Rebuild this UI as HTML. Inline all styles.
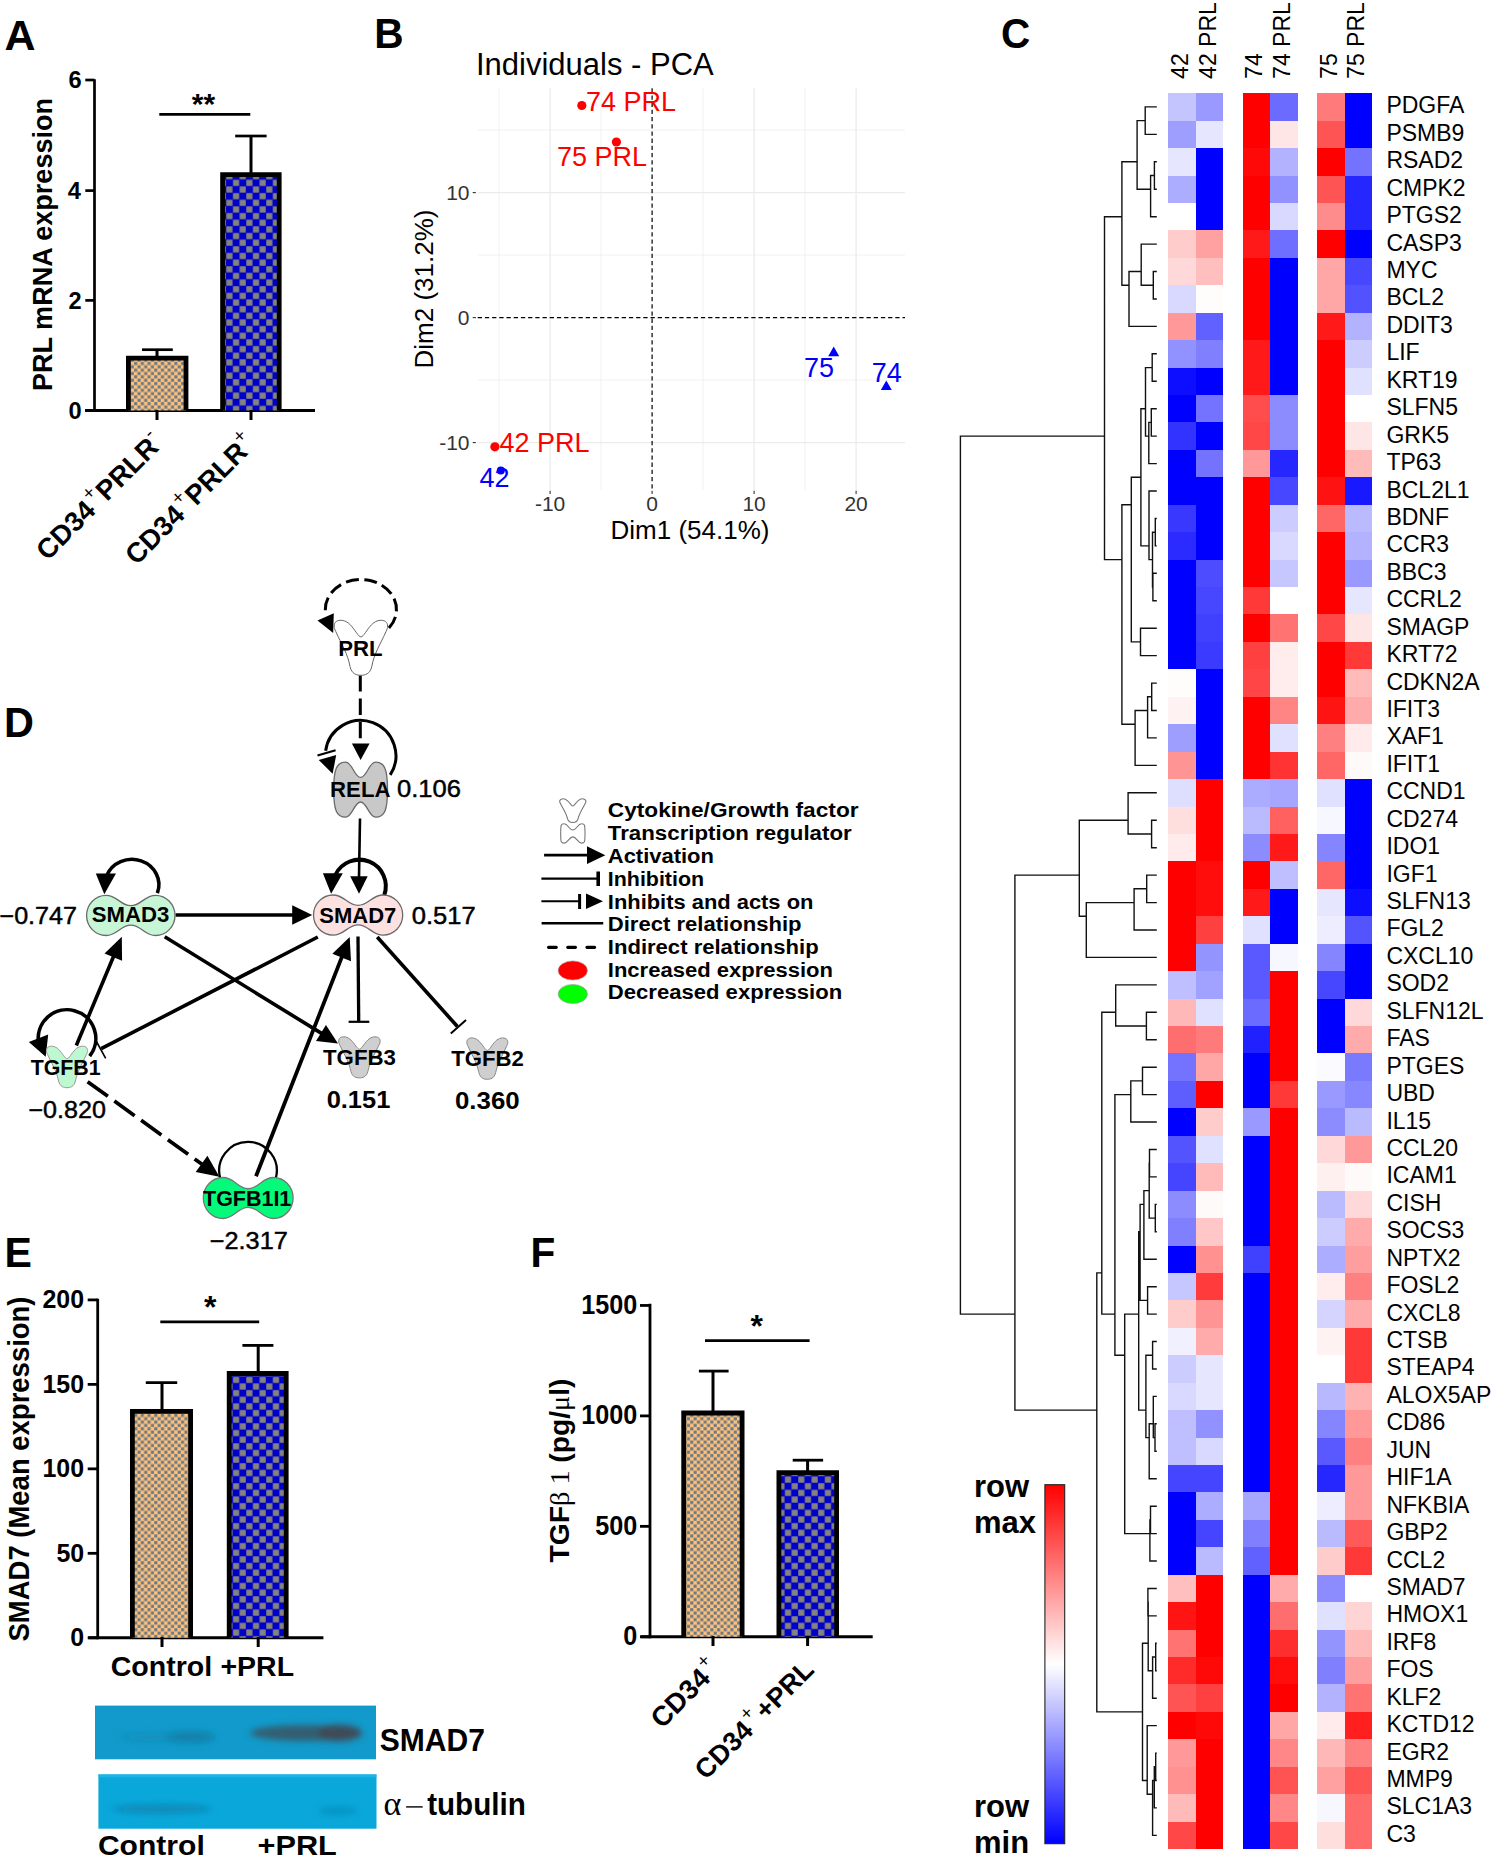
<!DOCTYPE html><html><head><meta charset="utf-8"><style>html,body{margin:0;padding:0;background:#fff;}svg{display:block;}</style></head><body><svg width="1492" height="1857" viewBox="0 0 1492 1857"><rect width="100%" height="100%" fill="#fff"/><defs>
<pattern id="pTan" patternUnits="userSpaceOnUse" width="6.7" height="6.7"><rect width="6.7" height="6.7" fill="#fec07b"/><rect x="0.125" y="0.125" width="3.1" height="3.1" fill="#6b7983"/><rect x="3.475" y="3.475" width="3.1" height="3.1" fill="#6b7983"/></pattern>
<pattern id="pBlue" patternUnits="userSpaceOnUse" width="13.3" height="13.3"><rect width="13.3" height="13.3" fill="#0000c8"/><rect x="0.25" y="0.25" width="6.15" height="6.15" fill="#84847c"/><rect x="6.9" y="6.9" width="6.15" height="6.15" fill="#84847c"/></pattern>
<linearGradient id="gKey" x1="0" y1="0" x2="0" y2="1"><stop offset="0" stop-color="#ff0000"/><stop offset="0.5" stop-color="#ffffff"/><stop offset="1" stop-color="#0000ff"/></linearGradient>
<linearGradient id="gBlot1" x1="0" y1="0" x2="0" y2="1"><stop offset="0" stop-color="#1598c8"/><stop offset="1" stop-color="#1a9dcc"/></linearGradient>
<filter id="blur2" x="-20%" y="-50%" width="140%" height="200%"><feGaussianBlur stdDeviation="3"/></filter>
<filter id="blur1" x="-20%" y="-50%" width="140%" height="200%"><feGaussianBlur stdDeviation="1.2"/></filter>
<marker id="ah" viewBox="0 0 10 10" refX="9" refY="5" markerWidth="5" markerHeight="5" orient="auto-start-reverse" markerUnits="strokeWidth"><path d="M0,0 L10,5 L0,10 z" fill="#000"/></marker>
</defs>
<text x="4.43" y="50" font-size="43.3" font-weight="bold" text-anchor="start" fill="#000" font-family='"Liberation Sans", sans-serif' textLength="31.04" lengthAdjust="spacingAndGlyphs" >A</text>
<text x="374.26" y="47.6" font-size="43.3" font-weight="bold" text-anchor="start" fill="#000" font-family='"Liberation Sans", sans-serif' textLength="29.36" lengthAdjust="spacingAndGlyphs" >B</text>
<text x="1001.08" y="47.5" font-size="43.3" font-weight="bold" text-anchor="start" fill="#000" font-family='"Liberation Sans", sans-serif' textLength="29.22" lengthAdjust="spacingAndGlyphs" >C</text>
<text x="4.1" y="737" font-size="43.3" font-weight="bold" text-anchor="start" fill="#000" font-family='"Liberation Sans", sans-serif' textLength="29.95" lengthAdjust="spacingAndGlyphs" >D</text>
<text x="4.43" y="1267" font-size="43.3" font-weight="bold" text-anchor="start" fill="#000" font-family='"Liberation Sans", sans-serif' textLength="27.39" lengthAdjust="spacingAndGlyphs" >E</text>
<text x="530.46" y="1267" font-size="43.3" font-weight="bold" text-anchor="start" fill="#000" font-family='"Liberation Sans", sans-serif' textLength="24.8" lengthAdjust="spacingAndGlyphs" >F</text>
<line x1="94.5" y1="79.2" x2="94.5" y2="411.8" stroke="#000" stroke-width="2.7" />
<line x1="85.3" y1="80" x2="94.5" y2="80" stroke="#000" stroke-width="2.7" />
<line x1="85.3" y1="190.6" x2="94.5" y2="190.6" stroke="#000" stroke-width="2.7" />
<line x1="85.3" y1="300.4" x2="94.5" y2="300.4" stroke="#000" stroke-width="2.7" />
<line x1="85.3" y1="410.5" x2="94.5" y2="410.5" stroke="#000" stroke-width="2.7" />
<text x="68.49" y="88.4" font-size="24.4" font-weight="bold" text-anchor="start" fill="#000" font-family='"Liberation Sans", sans-serif' textLength="13.16" lengthAdjust="spacingAndGlyphs" >6</text>
<text x="67.78" y="199.0" font-size="24.4" font-weight="bold" text-anchor="start" fill="#000" font-family='"Liberation Sans", sans-serif' textLength="13.16" lengthAdjust="spacingAndGlyphs" >4</text>
<text x="68.61" y="308.79999999999995" font-size="24.4" font-weight="bold" text-anchor="start" fill="#000" font-family='"Liberation Sans", sans-serif' textLength="13.16" lengthAdjust="spacingAndGlyphs" >2</text>
<text x="68.61" y="418.9" font-size="24.4" font-weight="bold" text-anchor="start" fill="#000" font-family='"Liberation Sans", sans-serif' textLength="13.16" lengthAdjust="spacingAndGlyphs" >0</text>
<line x1="85" y1="410.5" x2="315" y2="410.5" stroke="#000" stroke-width="3.1" />
<rect x="128.40" y="358.20" width="57.60" height="52.30" fill="url(#pTan)"/><path d="M128.40,410.50 V358.20 H186.00 V410.50" fill="none" stroke="#000" stroke-width="4.8"/>
<rect x="222.60" y="174.70" width="56.60" height="235.80" fill="url(#pBlue)"/><path d="M222.60,410.50 V174.70 H279.20 V410.50" fill="none" stroke="#000" stroke-width="4.8"/>
<line x1="157" y1="420" x2="157" y2="410" stroke="#000" stroke-width="3.0" />
<line x1="251" y1="420" x2="251" y2="410" stroke="#000" stroke-width="3.0" />
<line x1="157" y1="356" x2="157" y2="349.7" stroke="#000" stroke-width="3.0" />
<line x1="142" y1="349.7" x2="172.8" y2="349.7" stroke="#000" stroke-width="2.7" />
<line x1="251" y1="173" x2="251" y2="136" stroke="#000" stroke-width="3.0" />
<line x1="235.2" y1="136" x2="266.6" y2="136" stroke="#000" stroke-width="2.7" />
<line x1="159.3" y1="114.4" x2="250.3" y2="114.4" stroke="#000" stroke-width="2.7" />
<text x="203.5" y="113.5" font-size="30" font-weight="bold" text-anchor="middle" fill="#000" font-family='"Liberation Sans", sans-serif' >**</text>
<text x="0" y="0" font-size="28.5" font-weight="bold" text-anchor="middle" fill="#000" font-family='"Liberation Sans", sans-serif' textLength="293" lengthAdjust="spacingAndGlyphs" transform="translate(52,244.5) rotate(-90)">PRL mRNA expression</text>
<text x="0" y="0" font-size="27.5" font-weight="bold" text-anchor="end" fill="#000" font-family='"Liberation Sans", sans-serif' transform="translate(164.5,444.5) rotate(-45)">CD34<tspan font-size="19" font-weight="normal" dx="2" dy="-13">+</tspan><tspan dx="1" dy="13">PRLR</tspan><tspan font-size="19" font-weight="normal" dy="-13">-</tspan></text>
<text x="0" y="0" font-size="27.5" font-weight="bold" text-anchor="end" fill="#000" font-family='"Liberation Sans", sans-serif' transform="translate(257,445.6) rotate(-45)">CD34<tspan font-size="19" font-weight="normal" dx="2" dy="-13">+</tspan><tspan dx="1" dy="13">PRLR</tspan><tspan font-size="19" font-weight="normal" dy="-13">+</tspan></text>
<line x1="499.1" y1="88.2" x2="499.1" y2="490.2" stroke="#ebebeb" stroke-width="0.7" />
<line x1="601.1" y1="88.2" x2="601.1" y2="490.2" stroke="#ebebeb" stroke-width="0.7" />
<line x1="703.1" y1="88.2" x2="703.1" y2="490.2" stroke="#ebebeb" stroke-width="0.7" />
<line x1="805.1" y1="88.2" x2="805.1" y2="490.2" stroke="#ebebeb" stroke-width="0.7" />
<line x1="550.1" y1="88.2" x2="550.1" y2="490.2" stroke="#ebebeb" stroke-width="1.3" />
<line x1="754.1" y1="88.2" x2="754.1" y2="490.2" stroke="#ebebeb" stroke-width="1.3" />
<line x1="856.1" y1="88.2" x2="856.1" y2="490.2" stroke="#ebebeb" stroke-width="1.3" />
<line x1="477.7" y1="380.1" x2="905" y2="380.1" stroke="#ebebeb" stroke-width="0.7" />
<line x1="477.7" y1="255.10000000000002" x2="905" y2="255.10000000000002" stroke="#ebebeb" stroke-width="0.7" />
<line x1="477.7" y1="130.10000000000002" x2="905" y2="130.10000000000002" stroke="#ebebeb" stroke-width="0.7" />
<line x1="477.7" y1="442.6" x2="905" y2="442.6" stroke="#ebebeb" stroke-width="1.3" />
<line x1="477.7" y1="192.60000000000002" x2="905" y2="192.60000000000002" stroke="#ebebeb" stroke-width="1.3" />
<line x1="652.1" y1="88.2" x2="652.1" y2="490.2" stroke="#000" stroke-width="1.2" stroke-dasharray="4.3 2.9"/>
<line x1="477.7" y1="317.6" x2="905" y2="317.6" stroke="#000" stroke-width="1.2" stroke-dasharray="4.3 2.9"/>
<line x1="472.7" y1="192.60000000000002" x2="475.9" y2="192.60000000000002" stroke="#333" stroke-width="1.1" />
<text x="469.5" y="200.40000000000003" font-size="21" font-weight="normal" text-anchor="end" fill="#333" font-family='"Liberation Sans", sans-serif' >10</text>
<line x1="472.7" y1="317.6" x2="475.9" y2="317.6" stroke="#333" stroke-width="1.1" />
<text x="469.5" y="325.40000000000003" font-size="21" font-weight="normal" text-anchor="end" fill="#333" font-family='"Liberation Sans", sans-serif' >0</text>
<line x1="472.7" y1="442.6" x2="475.9" y2="442.6" stroke="#333" stroke-width="1.1" />
<text x="469.5" y="450.40000000000003" font-size="21" font-weight="normal" text-anchor="end" fill="#333" font-family='"Liberation Sans", sans-serif' >-10</text>
<line x1="550.1" y1="490.8" x2="550.1" y2="494" stroke="#333" stroke-width="1.1" />
<text x="550.1" y="511.2" font-size="21" font-weight="normal" text-anchor="middle" fill="#333" font-family='"Liberation Sans", sans-serif' >-10</text>
<line x1="652.1" y1="490.8" x2="652.1" y2="494" stroke="#333" stroke-width="1.1" />
<text x="652.1" y="511.2" font-size="21" font-weight="normal" text-anchor="middle" fill="#333" font-family='"Liberation Sans", sans-serif' >0</text>
<line x1="754.1" y1="490.8" x2="754.1" y2="494" stroke="#333" stroke-width="1.1" />
<text x="754.1" y="511.2" font-size="21" font-weight="normal" text-anchor="middle" fill="#333" font-family='"Liberation Sans", sans-serif' >10</text>
<line x1="856.1" y1="490.8" x2="856.1" y2="494" stroke="#333" stroke-width="1.1" />
<text x="856.1" y="511.2" font-size="21" font-weight="normal" text-anchor="middle" fill="#333" font-family='"Liberation Sans", sans-serif' >20</text>
<text x="476" y="75" font-size="31" font-weight="normal" text-anchor="start" fill="#000" font-family='"Liberation Sans", sans-serif' >Individuals - PCA</text>
<text x="690" y="539" font-size="26" font-weight="normal" text-anchor="middle" fill="#000" font-family='"Liberation Sans", sans-serif' >Dim1 (54.1%)</text>
<text x="0" y="0" font-size="26" font-weight="normal" text-anchor="middle" fill="#000" font-family='"Liberation Sans", sans-serif' transform="translate(432.5,289) rotate(-90)">Dim2 (31.2%)</text>
<circle cx="581.8" cy="105.5" r="4.6" fill="#ff0000"/>
<circle cx="616.4" cy="142" r="4.6" fill="#ff0000"/>
<circle cx="494.9" cy="446.8" r="4.6" fill="#ff0000"/>
<circle cx="500.8" cy="470.4" r="4" fill="#0000ff"/>
<path d="M833.7,346.6 L839.2,356.225 L828.2,356.225 z" fill="#0000ff"/>
<path d="M886.3,380.4 L891.8,390.025 L880.8,390.025 z" fill="#0000ff"/>
<text x="586" y="111.1" font-size="27" font-weight="normal" text-anchor="start" fill="#ff0000" font-family='"Liberation Sans", sans-serif' >74 PRL</text>
<text x="557" y="165.8" font-size="27" font-weight="normal" text-anchor="start" fill="#ff0000" font-family='"Liberation Sans", sans-serif' >75 PRL</text>
<text x="499.5" y="451.6" font-size="27" font-weight="normal" text-anchor="start" fill="#ff0000" font-family='"Liberation Sans", sans-serif' >42 PRL</text>
<text x="479.5" y="487" font-size="27" font-weight="normal" text-anchor="start" fill="#0000ff" font-family='"Liberation Sans", sans-serif' >42</text>
<text x="804" y="376.8" font-size="27" font-weight="normal" text-anchor="start" fill="#0000ff" font-family='"Liberation Sans", sans-serif' >75</text>
<text x="871.7" y="382.2" font-size="27" font-weight="normal" text-anchor="start" fill="#0000ff" font-family='"Liberation Sans", sans-serif' >74</text>
<g shape-rendering="crispEdges">
<rect x="1168.30" y="93.20" width="27.90" height="27.74" fill="#c4c4ff"/>
<rect x="1195.90" y="93.20" width="27.40" height="27.74" fill="#9999ff"/>
<rect x="1242.60" y="93.20" width="27.40" height="27.74" fill="#ff0000"/>
<rect x="1269.70" y="93.20" width="27.90" height="27.74" fill="#6b6bff"/>
<rect x="1316.90" y="93.20" width="27.90" height="27.74" fill="#ff7a7a"/>
<rect x="1344.50" y="93.20" width="27.70" height="27.74" fill="#0000ff"/>
<rect x="1168.30" y="120.64" width="27.90" height="27.74" fill="#9e9eff"/>
<rect x="1195.90" y="120.64" width="27.40" height="27.74" fill="#e6e6ff"/>
<rect x="1242.60" y="120.64" width="27.40" height="27.74" fill="#ff0000"/>
<rect x="1269.70" y="120.64" width="27.90" height="27.74" fill="#ffe6e6"/>
<rect x="1316.90" y="120.64" width="27.90" height="27.74" fill="#ff5454"/>
<rect x="1344.50" y="120.64" width="27.70" height="27.74" fill="#0000ff"/>
<rect x="1168.30" y="148.07" width="27.90" height="27.74" fill="#e6e6ff"/>
<rect x="1195.90" y="148.07" width="27.40" height="27.74" fill="#0000ff"/>
<rect x="1242.60" y="148.07" width="27.40" height="27.74" fill="#ff0808"/>
<rect x="1269.70" y="148.07" width="27.90" height="27.74" fill="#b2b2ff"/>
<rect x="1316.90" y="148.07" width="27.90" height="27.74" fill="#ff0000"/>
<rect x="1344.50" y="148.07" width="27.70" height="27.74" fill="#7373ff"/>
<rect x="1168.30" y="175.51" width="27.90" height="27.74" fill="#adadff"/>
<rect x="1195.90" y="175.51" width="27.40" height="27.74" fill="#0000ff"/>
<rect x="1242.60" y="175.51" width="27.40" height="27.74" fill="#ff0000"/>
<rect x="1269.70" y="175.51" width="27.90" height="27.74" fill="#9191ff"/>
<rect x="1316.90" y="175.51" width="27.90" height="27.74" fill="#ff5454"/>
<rect x="1344.50" y="175.51" width="27.70" height="27.74" fill="#2626ff"/>
<rect x="1168.30" y="202.94" width="27.90" height="27.74" fill="#ffffff"/>
<rect x="1195.90" y="202.94" width="27.40" height="27.74" fill="#0000ff"/>
<rect x="1242.60" y="202.94" width="27.40" height="27.74" fill="#ff0000"/>
<rect x="1269.70" y="202.94" width="27.90" height="27.74" fill="#d9d9ff"/>
<rect x="1316.90" y="202.94" width="27.90" height="27.74" fill="#ff8c8c"/>
<rect x="1344.50" y="202.94" width="27.70" height="27.74" fill="#2626ff"/>
<rect x="1168.30" y="230.38" width="27.90" height="27.74" fill="#ffcccc"/>
<rect x="1195.90" y="230.38" width="27.40" height="27.74" fill="#ffa1a1"/>
<rect x="1242.60" y="230.38" width="27.40" height="27.74" fill="#ff1919"/>
<rect x="1269.70" y="230.38" width="27.90" height="27.74" fill="#6e6eff"/>
<rect x="1316.90" y="230.38" width="27.90" height="27.74" fill="#ff0000"/>
<rect x="1344.50" y="230.38" width="27.70" height="27.74" fill="#0000ff"/>
<rect x="1168.30" y="257.82" width="27.90" height="27.74" fill="#ffd9d9"/>
<rect x="1195.90" y="257.82" width="27.40" height="27.74" fill="#ffbfbf"/>
<rect x="1242.60" y="257.82" width="27.40" height="27.74" fill="#ff0000"/>
<rect x="1269.70" y="257.82" width="27.90" height="27.74" fill="#0000ff"/>
<rect x="1316.90" y="257.82" width="27.90" height="27.74" fill="#ffa6a6"/>
<rect x="1344.50" y="257.82" width="27.70" height="27.74" fill="#4747ff"/>
<rect x="1168.30" y="285.25" width="27.90" height="27.74" fill="#d9d9ff"/>
<rect x="1195.90" y="285.25" width="27.40" height="27.74" fill="#fffcfc"/>
<rect x="1242.60" y="285.25" width="27.40" height="27.74" fill="#ff0000"/>
<rect x="1269.70" y="285.25" width="27.90" height="27.74" fill="#0000ff"/>
<rect x="1316.90" y="285.25" width="27.90" height="27.74" fill="#ffa6a6"/>
<rect x="1344.50" y="285.25" width="27.70" height="27.74" fill="#5252ff"/>
<rect x="1168.30" y="312.69" width="27.90" height="27.74" fill="#ff9999"/>
<rect x="1195.90" y="312.69" width="27.40" height="27.74" fill="#6161ff"/>
<rect x="1242.60" y="312.69" width="27.40" height="27.74" fill="#ff0000"/>
<rect x="1269.70" y="312.69" width="27.90" height="27.74" fill="#0000ff"/>
<rect x="1316.90" y="312.69" width="27.90" height="27.74" fill="#ff1919"/>
<rect x="1344.50" y="312.69" width="27.70" height="27.74" fill="#b2b2ff"/>
<rect x="1168.30" y="340.12" width="27.90" height="27.74" fill="#9191ff"/>
<rect x="1195.90" y="340.12" width="27.40" height="27.74" fill="#8080ff"/>
<rect x="1242.60" y="340.12" width="27.40" height="27.74" fill="#ff1919"/>
<rect x="1269.70" y="340.12" width="27.90" height="27.74" fill="#0000ff"/>
<rect x="1316.90" y="340.12" width="27.90" height="27.74" fill="#ff0000"/>
<rect x="1344.50" y="340.12" width="27.70" height="27.74" fill="#ccccff"/>
<rect x="1168.30" y="367.56" width="27.90" height="27.74" fill="#0d0dff"/>
<rect x="1195.90" y="367.56" width="27.40" height="27.74" fill="#0000ff"/>
<rect x="1242.60" y="367.56" width="27.40" height="27.74" fill="#ff1919"/>
<rect x="1269.70" y="367.56" width="27.90" height="27.74" fill="#0000ff"/>
<rect x="1316.90" y="367.56" width="27.90" height="27.74" fill="#ff0000"/>
<rect x="1344.50" y="367.56" width="27.70" height="27.74" fill="#e0e0ff"/>
<rect x="1168.30" y="395.00" width="27.90" height="27.74" fill="#0000ff"/>
<rect x="1195.90" y="395.00" width="27.40" height="27.74" fill="#7373ff"/>
<rect x="1242.60" y="395.00" width="27.40" height="27.74" fill="#ff4d4d"/>
<rect x="1269.70" y="395.00" width="27.90" height="27.74" fill="#8c8cff"/>
<rect x="1316.90" y="395.00" width="27.90" height="27.74" fill="#ff0000"/>
<rect x="1344.50" y="395.00" width="27.70" height="27.74" fill="#ffffff"/>
<rect x="1168.30" y="422.43" width="27.90" height="27.74" fill="#3333ff"/>
<rect x="1195.90" y="422.43" width="27.40" height="27.74" fill="#0000ff"/>
<rect x="1242.60" y="422.43" width="27.40" height="27.74" fill="#ff4747"/>
<rect x="1269.70" y="422.43" width="27.90" height="27.74" fill="#8c8cff"/>
<rect x="1316.90" y="422.43" width="27.90" height="27.74" fill="#ff0000"/>
<rect x="1344.50" y="422.43" width="27.70" height="27.74" fill="#ffe6e6"/>
<rect x="1168.30" y="449.87" width="27.90" height="27.74" fill="#0000ff"/>
<rect x="1195.90" y="449.87" width="27.40" height="27.74" fill="#7373ff"/>
<rect x="1242.60" y="449.87" width="27.40" height="27.74" fill="#ff9999"/>
<rect x="1269.70" y="449.87" width="27.90" height="27.74" fill="#2626ff"/>
<rect x="1316.90" y="449.87" width="27.90" height="27.74" fill="#ff0000"/>
<rect x="1344.50" y="449.87" width="27.70" height="27.74" fill="#ffbaba"/>
<rect x="1168.30" y="477.30" width="27.90" height="27.74" fill="#0000ff"/>
<rect x="1195.90" y="477.30" width="27.40" height="27.74" fill="#0000ff"/>
<rect x="1242.60" y="477.30" width="27.40" height="27.74" fill="#ff0000"/>
<rect x="1269.70" y="477.30" width="27.90" height="27.74" fill="#4747ff"/>
<rect x="1316.90" y="477.30" width="27.90" height="27.74" fill="#ff1212"/>
<rect x="1344.50" y="477.30" width="27.70" height="27.74" fill="#1919ff"/>
<rect x="1168.30" y="504.74" width="27.90" height="27.74" fill="#3838ff"/>
<rect x="1195.90" y="504.74" width="27.40" height="27.74" fill="#0000ff"/>
<rect x="1242.60" y="504.74" width="27.40" height="27.74" fill="#ff0000"/>
<rect x="1269.70" y="504.74" width="27.90" height="27.74" fill="#ccccff"/>
<rect x="1316.90" y="504.74" width="27.90" height="27.74" fill="#ff6666"/>
<rect x="1344.50" y="504.74" width="27.70" height="27.74" fill="#babaff"/>
<rect x="1168.30" y="532.17" width="27.90" height="27.74" fill="#2b2bff"/>
<rect x="1195.90" y="532.17" width="27.40" height="27.74" fill="#0000ff"/>
<rect x="1242.60" y="532.17" width="27.40" height="27.74" fill="#ff0000"/>
<rect x="1269.70" y="532.17" width="27.90" height="27.74" fill="#d9d9ff"/>
<rect x="1316.90" y="532.17" width="27.90" height="27.74" fill="#ff0000"/>
<rect x="1344.50" y="532.17" width="27.70" height="27.74" fill="#b2b2ff"/>
<rect x="1168.30" y="559.61" width="27.90" height="27.74" fill="#0000ff"/>
<rect x="1195.90" y="559.61" width="27.40" height="27.74" fill="#4d4dff"/>
<rect x="1242.60" y="559.61" width="27.40" height="27.74" fill="#ff0000"/>
<rect x="1269.70" y="559.61" width="27.90" height="27.74" fill="#c7c7ff"/>
<rect x="1316.90" y="559.61" width="27.90" height="27.74" fill="#ff0000"/>
<rect x="1344.50" y="559.61" width="27.70" height="27.74" fill="#9999ff"/>
<rect x="1168.30" y="587.05" width="27.90" height="27.74" fill="#0000ff"/>
<rect x="1195.90" y="587.05" width="27.40" height="27.74" fill="#4747ff"/>
<rect x="1242.60" y="587.05" width="27.40" height="27.74" fill="#ff3838"/>
<rect x="1269.70" y="587.05" width="27.90" height="27.74" fill="#ffffff"/>
<rect x="1316.90" y="587.05" width="27.90" height="27.74" fill="#ff0000"/>
<rect x="1344.50" y="587.05" width="27.70" height="27.74" fill="#e6e6ff"/>
<rect x="1168.30" y="614.48" width="27.90" height="27.74" fill="#0000ff"/>
<rect x="1195.90" y="614.48" width="27.40" height="27.74" fill="#4040ff"/>
<rect x="1242.60" y="614.48" width="27.40" height="27.74" fill="#ff0000"/>
<rect x="1269.70" y="614.48" width="27.90" height="27.74" fill="#ff7373"/>
<rect x="1316.90" y="614.48" width="27.90" height="27.74" fill="#ff4747"/>
<rect x="1344.50" y="614.48" width="27.70" height="27.74" fill="#ffe6e6"/>
<rect x="1168.30" y="641.92" width="27.90" height="27.74" fill="#0000ff"/>
<rect x="1195.90" y="641.92" width="27.40" height="27.74" fill="#3b3bff"/>
<rect x="1242.60" y="641.92" width="27.40" height="27.74" fill="#ff4040"/>
<rect x="1269.70" y="641.92" width="27.90" height="27.74" fill="#ffeded"/>
<rect x="1316.90" y="641.92" width="27.90" height="27.74" fill="#ff0000"/>
<rect x="1344.50" y="641.92" width="27.70" height="27.74" fill="#ff3838"/>
<rect x="1168.30" y="669.35" width="27.90" height="27.74" fill="#fffcfc"/>
<rect x="1195.90" y="669.35" width="27.40" height="27.74" fill="#0000ff"/>
<rect x="1242.60" y="669.35" width="27.40" height="27.74" fill="#ff4545"/>
<rect x="1269.70" y="669.35" width="27.90" height="27.74" fill="#ffeded"/>
<rect x="1316.90" y="669.35" width="27.90" height="27.74" fill="#ff0000"/>
<rect x="1344.50" y="669.35" width="27.70" height="27.74" fill="#ffbaba"/>
<rect x="1168.30" y="696.79" width="27.90" height="27.74" fill="#fff2f2"/>
<rect x="1195.90" y="696.79" width="27.40" height="27.74" fill="#0000ff"/>
<rect x="1242.60" y="696.79" width="27.40" height="27.74" fill="#ff0000"/>
<rect x="1269.70" y="696.79" width="27.90" height="27.74" fill="#ff8585"/>
<rect x="1316.90" y="696.79" width="27.90" height="27.74" fill="#ff1414"/>
<rect x="1344.50" y="696.79" width="27.70" height="27.74" fill="#ffabab"/>
<rect x="1168.30" y="724.23" width="27.90" height="27.74" fill="#9e9eff"/>
<rect x="1195.90" y="724.23" width="27.40" height="27.74" fill="#0000ff"/>
<rect x="1242.60" y="724.23" width="27.40" height="27.74" fill="#ff0000"/>
<rect x="1269.70" y="724.23" width="27.90" height="27.74" fill="#e0e0ff"/>
<rect x="1316.90" y="724.23" width="27.90" height="27.74" fill="#ff8080"/>
<rect x="1344.50" y="724.23" width="27.70" height="27.74" fill="#ffebeb"/>
<rect x="1168.30" y="751.66" width="27.90" height="27.74" fill="#ff9494"/>
<rect x="1195.90" y="751.66" width="27.40" height="27.74" fill="#0000ff"/>
<rect x="1242.60" y="751.66" width="27.40" height="27.74" fill="#ff0000"/>
<rect x="1269.70" y="751.66" width="27.90" height="27.74" fill="#ff3333"/>
<rect x="1316.90" y="751.66" width="27.90" height="27.74" fill="#ff6666"/>
<rect x="1344.50" y="751.66" width="27.70" height="27.74" fill="#fffafa"/>
<rect x="1168.30" y="779.10" width="27.90" height="27.74" fill="#dedeff"/>
<rect x="1195.90" y="779.10" width="27.40" height="27.74" fill="#ff0000"/>
<rect x="1242.60" y="779.10" width="27.40" height="27.74" fill="#ababff"/>
<rect x="1269.70" y="779.10" width="27.90" height="27.74" fill="#a6a6ff"/>
<rect x="1316.90" y="779.10" width="27.90" height="27.74" fill="#e0e0ff"/>
<rect x="1344.50" y="779.10" width="27.70" height="27.74" fill="#0000ff"/>
<rect x="1168.30" y="806.53" width="27.90" height="27.74" fill="#ffdede"/>
<rect x="1195.90" y="806.53" width="27.40" height="27.74" fill="#ff0000"/>
<rect x="1242.60" y="806.53" width="27.40" height="27.74" fill="#babaff"/>
<rect x="1269.70" y="806.53" width="27.90" height="27.74" fill="#ff6161"/>
<rect x="1316.90" y="806.53" width="27.90" height="27.74" fill="#f7f7ff"/>
<rect x="1344.50" y="806.53" width="27.70" height="27.74" fill="#0000ff"/>
<rect x="1168.30" y="833.97" width="27.90" height="27.74" fill="#ffebeb"/>
<rect x="1195.90" y="833.97" width="27.40" height="27.74" fill="#ff0000"/>
<rect x="1242.60" y="833.97" width="27.40" height="27.74" fill="#8c8cff"/>
<rect x="1269.70" y="833.97" width="27.90" height="27.74" fill="#ff1919"/>
<rect x="1316.90" y="833.97" width="27.90" height="27.74" fill="#8585ff"/>
<rect x="1344.50" y="833.97" width="27.70" height="27.74" fill="#0000ff"/>
<rect x="1168.30" y="861.41" width="27.90" height="27.74" fill="#ff0000"/>
<rect x="1195.90" y="861.41" width="27.40" height="27.74" fill="#ff0d0d"/>
<rect x="1242.60" y="861.41" width="27.40" height="27.74" fill="#ff0000"/>
<rect x="1269.70" y="861.41" width="27.90" height="27.74" fill="#bfbfff"/>
<rect x="1316.90" y="861.41" width="27.90" height="27.74" fill="#ff6666"/>
<rect x="1344.50" y="861.41" width="27.70" height="27.74" fill="#0000ff"/>
<rect x="1168.30" y="888.84" width="27.90" height="27.74" fill="#ff0000"/>
<rect x="1195.90" y="888.84" width="27.40" height="27.74" fill="#ff0d0d"/>
<rect x="1242.60" y="888.84" width="27.40" height="27.74" fill="#ff1919"/>
<rect x="1269.70" y="888.84" width="27.90" height="27.74" fill="#0000ff"/>
<rect x="1316.90" y="888.84" width="27.90" height="27.74" fill="#e6e6ff"/>
<rect x="1344.50" y="888.84" width="27.70" height="27.74" fill="#0d0dff"/>
<rect x="1168.30" y="916.28" width="27.90" height="27.74" fill="#ff0000"/>
<rect x="1195.90" y="916.28" width="27.40" height="27.74" fill="#ff4040"/>
<rect x="1242.60" y="916.28" width="27.40" height="27.74" fill="#e0e0ff"/>
<rect x="1269.70" y="916.28" width="27.90" height="27.74" fill="#0000ff"/>
<rect x="1316.90" y="916.28" width="27.90" height="27.74" fill="#ededff"/>
<rect x="1344.50" y="916.28" width="27.70" height="27.74" fill="#5454ff"/>
<rect x="1168.30" y="943.71" width="27.90" height="27.74" fill="#ff0000"/>
<rect x="1195.90" y="943.71" width="27.40" height="27.74" fill="#9494ff"/>
<rect x="1242.60" y="943.71" width="27.40" height="27.74" fill="#5959ff"/>
<rect x="1269.70" y="943.71" width="27.90" height="27.74" fill="#f7f7ff"/>
<rect x="1316.90" y="943.71" width="27.90" height="27.74" fill="#8585ff"/>
<rect x="1344.50" y="943.71" width="27.70" height="27.74" fill="#0000ff"/>
<rect x="1168.30" y="971.15" width="27.90" height="27.74" fill="#bfbfff"/>
<rect x="1195.90" y="971.15" width="27.40" height="27.74" fill="#a1a1ff"/>
<rect x="1242.60" y="971.15" width="27.40" height="27.74" fill="#5959ff"/>
<rect x="1269.70" y="971.15" width="27.90" height="27.74" fill="#ff0000"/>
<rect x="1316.90" y="971.15" width="27.90" height="27.74" fill="#4747ff"/>
<rect x="1344.50" y="971.15" width="27.70" height="27.74" fill="#0000ff"/>
<rect x="1168.30" y="998.59" width="27.90" height="27.74" fill="#ffb8b8"/>
<rect x="1195.90" y="998.59" width="27.40" height="27.74" fill="#e0e0ff"/>
<rect x="1242.60" y="998.59" width="27.40" height="27.74" fill="#6b6bff"/>
<rect x="1269.70" y="998.59" width="27.90" height="27.74" fill="#ff0000"/>
<rect x="1316.90" y="998.59" width="27.90" height="27.74" fill="#0000ff"/>
<rect x="1344.50" y="998.59" width="27.70" height="27.74" fill="#ffd9d9"/>
<rect x="1168.30" y="1026.02" width="27.90" height="27.74" fill="#ff6e6e"/>
<rect x="1195.90" y="1026.02" width="27.40" height="27.74" fill="#ff7a7a"/>
<rect x="1242.60" y="1026.02" width="27.40" height="27.74" fill="#2121ff"/>
<rect x="1269.70" y="1026.02" width="27.90" height="27.74" fill="#ff0000"/>
<rect x="1316.90" y="1026.02" width="27.90" height="27.74" fill="#0000ff"/>
<rect x="1344.50" y="1026.02" width="27.70" height="27.74" fill="#ffabab"/>
<rect x="1168.30" y="1053.46" width="27.90" height="27.74" fill="#7373ff"/>
<rect x="1195.90" y="1053.46" width="27.40" height="27.74" fill="#ffa6a6"/>
<rect x="1242.60" y="1053.46" width="27.40" height="27.74" fill="#0000ff"/>
<rect x="1269.70" y="1053.46" width="27.90" height="27.74" fill="#ff0000"/>
<rect x="1316.90" y="1053.46" width="27.90" height="27.74" fill="#fafaff"/>
<rect x="1344.50" y="1053.46" width="27.70" height="27.74" fill="#7a7aff"/>
<rect x="1168.30" y="1080.89" width="27.90" height="27.74" fill="#5e5eff"/>
<rect x="1195.90" y="1080.89" width="27.40" height="27.74" fill="#ff0000"/>
<rect x="1242.60" y="1080.89" width="27.40" height="27.74" fill="#0000ff"/>
<rect x="1269.70" y="1080.89" width="27.90" height="27.74" fill="#ff3838"/>
<rect x="1316.90" y="1080.89" width="27.90" height="27.74" fill="#9999ff"/>
<rect x="1344.50" y="1080.89" width="27.70" height="27.74" fill="#8787ff"/>
<rect x="1168.30" y="1108.33" width="27.90" height="27.74" fill="#0000ff"/>
<rect x="1195.90" y="1108.33" width="27.40" height="27.74" fill="#ffcccc"/>
<rect x="1242.60" y="1108.33" width="27.40" height="27.74" fill="#9999ff"/>
<rect x="1269.70" y="1108.33" width="27.90" height="27.74" fill="#ff0000"/>
<rect x="1316.90" y="1108.33" width="27.90" height="27.74" fill="#8c8cff"/>
<rect x="1344.50" y="1108.33" width="27.70" height="27.74" fill="#babaff"/>
<rect x="1168.30" y="1135.77" width="27.90" height="27.74" fill="#5454ff"/>
<rect x="1195.90" y="1135.77" width="27.40" height="27.74" fill="#e0e0ff"/>
<rect x="1242.60" y="1135.77" width="27.40" height="27.74" fill="#0000ff"/>
<rect x="1269.70" y="1135.77" width="27.90" height="27.74" fill="#ff0000"/>
<rect x="1316.90" y="1135.77" width="27.90" height="27.74" fill="#ffd9d9"/>
<rect x="1344.50" y="1135.77" width="27.70" height="27.74" fill="#ff9999"/>
<rect x="1168.30" y="1163.20" width="27.90" height="27.74" fill="#4545ff"/>
<rect x="1195.90" y="1163.20" width="27.40" height="27.74" fill="#ffbaba"/>
<rect x="1242.60" y="1163.20" width="27.40" height="27.74" fill="#0000ff"/>
<rect x="1269.70" y="1163.20" width="27.90" height="27.74" fill="#ff0000"/>
<rect x="1316.90" y="1163.20" width="27.90" height="27.74" fill="#fff0f0"/>
<rect x="1344.50" y="1163.20" width="27.70" height="27.74" fill="#fffafa"/>
<rect x="1168.30" y="1190.64" width="27.90" height="27.74" fill="#8c8cff"/>
<rect x="1195.90" y="1190.64" width="27.40" height="27.74" fill="#fffafa"/>
<rect x="1242.60" y="1190.64" width="27.40" height="27.74" fill="#0000ff"/>
<rect x="1269.70" y="1190.64" width="27.90" height="27.74" fill="#ff0000"/>
<rect x="1316.90" y="1190.64" width="27.90" height="27.74" fill="#babaff"/>
<rect x="1344.50" y="1190.64" width="27.70" height="27.74" fill="#ffd9d9"/>
<rect x="1168.30" y="1218.07" width="27.90" height="27.74" fill="#8080ff"/>
<rect x="1195.90" y="1218.07" width="27.40" height="27.74" fill="#ffc7c7"/>
<rect x="1242.60" y="1218.07" width="27.40" height="27.74" fill="#0000ff"/>
<rect x="1269.70" y="1218.07" width="27.90" height="27.74" fill="#ff0000"/>
<rect x="1316.90" y="1218.07" width="27.90" height="27.74" fill="#ccccff"/>
<rect x="1344.50" y="1218.07" width="27.70" height="27.74" fill="#ffabab"/>
<rect x="1168.30" y="1245.51" width="27.90" height="27.74" fill="#0000ff"/>
<rect x="1195.90" y="1245.51" width="27.40" height="27.74" fill="#ff9191"/>
<rect x="1242.60" y="1245.51" width="27.40" height="27.74" fill="#4040ff"/>
<rect x="1269.70" y="1245.51" width="27.90" height="27.74" fill="#ff0000"/>
<rect x="1316.90" y="1245.51" width="27.90" height="27.74" fill="#adadff"/>
<rect x="1344.50" y="1245.51" width="27.70" height="27.74" fill="#ff9e9e"/>
<rect x="1168.30" y="1272.95" width="27.90" height="27.74" fill="#c7c7ff"/>
<rect x="1195.90" y="1272.95" width="27.40" height="27.74" fill="#ff3b3b"/>
<rect x="1242.60" y="1272.95" width="27.40" height="27.74" fill="#0000ff"/>
<rect x="1269.70" y="1272.95" width="27.90" height="27.74" fill="#ff0000"/>
<rect x="1316.90" y="1272.95" width="27.90" height="27.74" fill="#ffeded"/>
<rect x="1344.50" y="1272.95" width="27.70" height="27.74" fill="#ff8080"/>
<rect x="1168.30" y="1300.38" width="27.90" height="27.74" fill="#ffcccc"/>
<rect x="1195.90" y="1300.38" width="27.40" height="27.74" fill="#ff9494"/>
<rect x="1242.60" y="1300.38" width="27.40" height="27.74" fill="#0000ff"/>
<rect x="1269.70" y="1300.38" width="27.90" height="27.74" fill="#ff0000"/>
<rect x="1316.90" y="1300.38" width="27.90" height="27.74" fill="#d4d4ff"/>
<rect x="1344.50" y="1300.38" width="27.70" height="27.74" fill="#ffabab"/>
<rect x="1168.30" y="1327.82" width="27.90" height="27.74" fill="#f0f0ff"/>
<rect x="1195.90" y="1327.82" width="27.40" height="27.74" fill="#ffabab"/>
<rect x="1242.60" y="1327.82" width="27.40" height="27.74" fill="#0000ff"/>
<rect x="1269.70" y="1327.82" width="27.90" height="27.74" fill="#ff0000"/>
<rect x="1316.90" y="1327.82" width="27.90" height="27.74" fill="#fff2f2"/>
<rect x="1344.50" y="1327.82" width="27.70" height="27.74" fill="#ff3838"/>
<rect x="1168.30" y="1355.25" width="27.90" height="27.74" fill="#ccccff"/>
<rect x="1195.90" y="1355.25" width="27.40" height="27.74" fill="#e6e6ff"/>
<rect x="1242.60" y="1355.25" width="27.40" height="27.74" fill="#0000ff"/>
<rect x="1269.70" y="1355.25" width="27.90" height="27.74" fill="#ff0000"/>
<rect x="1316.90" y="1355.25" width="27.90" height="27.74" fill="#ffffff"/>
<rect x="1344.50" y="1355.25" width="27.70" height="27.74" fill="#ff3838"/>
<rect x="1168.30" y="1382.69" width="27.90" height="27.74" fill="#d9d9ff"/>
<rect x="1195.90" y="1382.69" width="27.40" height="27.74" fill="#e6e6ff"/>
<rect x="1242.60" y="1382.69" width="27.40" height="27.74" fill="#0000ff"/>
<rect x="1269.70" y="1382.69" width="27.90" height="27.74" fill="#ff0000"/>
<rect x="1316.90" y="1382.69" width="27.90" height="27.74" fill="#b8b8ff"/>
<rect x="1344.50" y="1382.69" width="27.70" height="27.74" fill="#ffb2b2"/>
<rect x="1168.30" y="1410.12" width="27.90" height="27.74" fill="#bfbfff"/>
<rect x="1195.90" y="1410.12" width="27.40" height="27.74" fill="#9191ff"/>
<rect x="1242.60" y="1410.12" width="27.40" height="27.74" fill="#0000ff"/>
<rect x="1269.70" y="1410.12" width="27.90" height="27.74" fill="#ff0000"/>
<rect x="1316.90" y="1410.12" width="27.90" height="27.74" fill="#8585ff"/>
<rect x="1344.50" y="1410.12" width="27.70" height="27.74" fill="#ff9999"/>
<rect x="1168.30" y="1437.56" width="27.90" height="27.74" fill="#bfbfff"/>
<rect x="1195.90" y="1437.56" width="27.40" height="27.74" fill="#d9d9ff"/>
<rect x="1242.60" y="1437.56" width="27.40" height="27.74" fill="#0000ff"/>
<rect x="1269.70" y="1437.56" width="27.90" height="27.74" fill="#ff0000"/>
<rect x="1316.90" y="1437.56" width="27.90" height="27.74" fill="#5959ff"/>
<rect x="1344.50" y="1437.56" width="27.70" height="27.74" fill="#ff8080"/>
<rect x="1168.30" y="1465.00" width="27.90" height="27.74" fill="#4545ff"/>
<rect x="1195.90" y="1465.00" width="27.40" height="27.74" fill="#4545ff"/>
<rect x="1242.60" y="1465.00" width="27.40" height="27.74" fill="#0000ff"/>
<rect x="1269.70" y="1465.00" width="27.90" height="27.74" fill="#ff0000"/>
<rect x="1316.90" y="1465.00" width="27.90" height="27.74" fill="#2626ff"/>
<rect x="1344.50" y="1465.00" width="27.70" height="27.74" fill="#ff9999"/>
<rect x="1168.30" y="1492.43" width="27.90" height="27.74" fill="#0000ff"/>
<rect x="1195.90" y="1492.43" width="27.40" height="27.74" fill="#adadff"/>
<rect x="1242.60" y="1492.43" width="27.40" height="27.74" fill="#a6a6ff"/>
<rect x="1269.70" y="1492.43" width="27.90" height="27.74" fill="#ff0000"/>
<rect x="1316.90" y="1492.43" width="27.90" height="27.74" fill="#ededff"/>
<rect x="1344.50" y="1492.43" width="27.70" height="27.74" fill="#ff9999"/>
<rect x="1168.30" y="1519.87" width="27.90" height="27.74" fill="#0000ff"/>
<rect x="1195.90" y="1519.87" width="27.40" height="27.74" fill="#4545ff"/>
<rect x="1242.60" y="1519.87" width="27.40" height="27.74" fill="#8080ff"/>
<rect x="1269.70" y="1519.87" width="27.90" height="27.74" fill="#ff0000"/>
<rect x="1316.90" y="1519.87" width="27.90" height="27.74" fill="#babaff"/>
<rect x="1344.50" y="1519.87" width="27.70" height="27.74" fill="#ff5959"/>
<rect x="1168.30" y="1547.30" width="27.90" height="27.74" fill="#0000ff"/>
<rect x="1195.90" y="1547.30" width="27.40" height="27.74" fill="#babaff"/>
<rect x="1242.60" y="1547.30" width="27.40" height="27.74" fill="#6161ff"/>
<rect x="1269.70" y="1547.30" width="27.90" height="27.74" fill="#ff0000"/>
<rect x="1316.90" y="1547.30" width="27.90" height="27.74" fill="#ffcccc"/>
<rect x="1344.50" y="1547.30" width="27.70" height="27.74" fill="#ff3838"/>
<rect x="1168.30" y="1574.74" width="27.90" height="27.74" fill="#ffbfbf"/>
<rect x="1195.90" y="1574.74" width="27.40" height="27.74" fill="#ff0000"/>
<rect x="1242.60" y="1574.74" width="27.40" height="27.74" fill="#0000ff"/>
<rect x="1269.70" y="1574.74" width="27.90" height="27.74" fill="#ffabab"/>
<rect x="1316.90" y="1574.74" width="27.90" height="27.74" fill="#8c8cff"/>
<rect x="1344.50" y="1574.74" width="27.70" height="27.74" fill="#ffffff"/>
<rect x="1168.30" y="1602.18" width="27.90" height="27.74" fill="#ff1414"/>
<rect x="1195.90" y="1602.18" width="27.40" height="27.74" fill="#ff0000"/>
<rect x="1242.60" y="1602.18" width="27.40" height="27.74" fill="#0000ff"/>
<rect x="1269.70" y="1602.18" width="27.90" height="27.74" fill="#ff6e6e"/>
<rect x="1316.90" y="1602.18" width="27.90" height="27.74" fill="#e0e0ff"/>
<rect x="1344.50" y="1602.18" width="27.70" height="27.74" fill="#ffd4d4"/>
<rect x="1168.30" y="1629.61" width="27.90" height="27.74" fill="#ff7373"/>
<rect x="1195.90" y="1629.61" width="27.40" height="27.74" fill="#ff0000"/>
<rect x="1242.60" y="1629.61" width="27.40" height="27.74" fill="#0000ff"/>
<rect x="1269.70" y="1629.61" width="27.90" height="27.74" fill="#ff2e2e"/>
<rect x="1316.90" y="1629.61" width="27.90" height="27.74" fill="#9494ff"/>
<rect x="1344.50" y="1629.61" width="27.70" height="27.74" fill="#ffbaba"/>
<rect x="1168.30" y="1657.05" width="27.90" height="27.74" fill="#ff2b2b"/>
<rect x="1195.90" y="1657.05" width="27.40" height="27.74" fill="#ff0808"/>
<rect x="1242.60" y="1657.05" width="27.40" height="27.74" fill="#0000ff"/>
<rect x="1269.70" y="1657.05" width="27.90" height="27.74" fill="#ff0d0d"/>
<rect x="1316.90" y="1657.05" width="27.90" height="27.74" fill="#8080ff"/>
<rect x="1344.50" y="1657.05" width="27.70" height="27.74" fill="#ff9e9e"/>
<rect x="1168.30" y="1684.48" width="27.90" height="27.74" fill="#ff5454"/>
<rect x="1195.90" y="1684.48" width="27.40" height="27.74" fill="#ff4040"/>
<rect x="1242.60" y="1684.48" width="27.40" height="27.74" fill="#0000ff"/>
<rect x="1269.70" y="1684.48" width="27.90" height="27.74" fill="#ff0000"/>
<rect x="1316.90" y="1684.48" width="27.90" height="27.74" fill="#b2b2ff"/>
<rect x="1344.50" y="1684.48" width="27.70" height="27.74" fill="#ff7373"/>
<rect x="1168.30" y="1711.92" width="27.90" height="27.74" fill="#ff0000"/>
<rect x="1195.90" y="1711.92" width="27.40" height="27.74" fill="#ff0808"/>
<rect x="1242.60" y="1711.92" width="27.40" height="27.74" fill="#0000ff"/>
<rect x="1269.70" y="1711.92" width="27.90" height="27.74" fill="#ffa6a6"/>
<rect x="1316.90" y="1711.92" width="27.90" height="27.74" fill="#ffebeb"/>
<rect x="1344.50" y="1711.92" width="27.70" height="27.74" fill="#ff1f1f"/>
<rect x="1168.30" y="1739.36" width="27.90" height="27.74" fill="#ff9999"/>
<rect x="1195.90" y="1739.36" width="27.40" height="27.74" fill="#ff0000"/>
<rect x="1242.60" y="1739.36" width="27.40" height="27.74" fill="#0000ff"/>
<rect x="1269.70" y="1739.36" width="27.90" height="27.74" fill="#ff8787"/>
<rect x="1316.90" y="1739.36" width="27.90" height="27.74" fill="#ffb8b8"/>
<rect x="1344.50" y="1739.36" width="27.70" height="27.74" fill="#ff8080"/>
<rect x="1168.30" y="1766.79" width="27.90" height="27.74" fill="#ff9191"/>
<rect x="1195.90" y="1766.79" width="27.40" height="27.74" fill="#ff0000"/>
<rect x="1242.60" y="1766.79" width="27.40" height="27.74" fill="#0000ff"/>
<rect x="1269.70" y="1766.79" width="27.90" height="27.74" fill="#ff5252"/>
<rect x="1316.90" y="1766.79" width="27.90" height="27.74" fill="#ffa1a1"/>
<rect x="1344.50" y="1766.79" width="27.70" height="27.74" fill="#ff5454"/>
<rect x="1168.30" y="1794.23" width="27.90" height="27.74" fill="#ffbaba"/>
<rect x="1195.90" y="1794.23" width="27.40" height="27.74" fill="#ff0000"/>
<rect x="1242.60" y="1794.23" width="27.40" height="27.74" fill="#0000ff"/>
<rect x="1269.70" y="1794.23" width="27.90" height="27.74" fill="#ff8787"/>
<rect x="1316.90" y="1794.23" width="27.90" height="27.74" fill="#f7f7ff"/>
<rect x="1344.50" y="1794.23" width="27.70" height="27.74" fill="#ff6b6b"/>
<rect x="1168.30" y="1821.66" width="27.90" height="27.74" fill="#ff4747"/>
<rect x="1195.90" y="1821.66" width="27.40" height="27.74" fill="#ff0000"/>
<rect x="1242.60" y="1821.66" width="27.40" height="27.74" fill="#0000ff"/>
<rect x="1269.70" y="1821.66" width="27.90" height="27.74" fill="#ff4747"/>
<rect x="1316.90" y="1821.66" width="27.90" height="27.74" fill="#ffdede"/>
<rect x="1344.50" y="1821.66" width="27.70" height="27.74" fill="#ff6b6b"/>
</g>
<text x="1386.4" y="113.4" font-size="23" font-weight="normal" text-anchor="start" fill="#000" font-family='"Liberation Sans", sans-serif' >PDGFA</text>
<text x="1386.4" y="140.84" font-size="23" font-weight="normal" text-anchor="start" fill="#000" font-family='"Liberation Sans", sans-serif' >PSMB9</text>
<text x="1386.4" y="168.27" font-size="23" font-weight="normal" text-anchor="start" fill="#000" font-family='"Liberation Sans", sans-serif' >RSAD2</text>
<text x="1386.4" y="195.71" font-size="23" font-weight="normal" text-anchor="start" fill="#000" font-family='"Liberation Sans", sans-serif' >CMPK2</text>
<text x="1386.4" y="223.14" font-size="23" font-weight="normal" text-anchor="start" fill="#000" font-family='"Liberation Sans", sans-serif' >PTGS2</text>
<text x="1386.4" y="250.58" font-size="23" font-weight="normal" text-anchor="start" fill="#000" font-family='"Liberation Sans", sans-serif' >CASP3</text>
<text x="1386.4" y="278.02" font-size="23" font-weight="normal" text-anchor="start" fill="#000" font-family='"Liberation Sans", sans-serif' >MYC</text>
<text x="1386.4" y="305.45" font-size="23" font-weight="normal" text-anchor="start" fill="#000" font-family='"Liberation Sans", sans-serif' >BCL2</text>
<text x="1386.4" y="332.89" font-size="23" font-weight="normal" text-anchor="start" fill="#000" font-family='"Liberation Sans", sans-serif' >DDIT3</text>
<text x="1386.4" y="360.32" font-size="23" font-weight="normal" text-anchor="start" fill="#000" font-family='"Liberation Sans", sans-serif' >LIF</text>
<text x="1386.4" y="387.76" font-size="23" font-weight="normal" text-anchor="start" fill="#000" font-family='"Liberation Sans", sans-serif' >KRT19</text>
<text x="1386.4" y="415.2" font-size="23" font-weight="normal" text-anchor="start" fill="#000" font-family='"Liberation Sans", sans-serif' >SLFN5</text>
<text x="1386.4" y="442.63" font-size="23" font-weight="normal" text-anchor="start" fill="#000" font-family='"Liberation Sans", sans-serif' >GRK5</text>
<text x="1386.4" y="470.07" font-size="23" font-weight="normal" text-anchor="start" fill="#000" font-family='"Liberation Sans", sans-serif' >TP63</text>
<text x="1386.4" y="497.5" font-size="23" font-weight="normal" text-anchor="start" fill="#000" font-family='"Liberation Sans", sans-serif' >BCL2L1</text>
<text x="1386.4" y="524.94" font-size="23" font-weight="normal" text-anchor="start" fill="#000" font-family='"Liberation Sans", sans-serif' >BDNF</text>
<text x="1386.4" y="552.38" font-size="23" font-weight="normal" text-anchor="start" fill="#000" font-family='"Liberation Sans", sans-serif' >CCR3</text>
<text x="1386.4" y="579.81" font-size="23" font-weight="normal" text-anchor="start" fill="#000" font-family='"Liberation Sans", sans-serif' >BBC3</text>
<text x="1386.4" y="607.25" font-size="23" font-weight="normal" text-anchor="start" fill="#000" font-family='"Liberation Sans", sans-serif' >CCRL2</text>
<text x="1386.4" y="634.68" font-size="23" font-weight="normal" text-anchor="start" fill="#000" font-family='"Liberation Sans", sans-serif' >SMAGP</text>
<text x="1386.4" y="662.12" font-size="23" font-weight="normal" text-anchor="start" fill="#000" font-family='"Liberation Sans", sans-serif' >KRT72</text>
<text x="1386.4" y="689.55" font-size="23" font-weight="normal" text-anchor="start" fill="#000" font-family='"Liberation Sans", sans-serif' >CDKN2A</text>
<text x="1386.4" y="716.99" font-size="23" font-weight="normal" text-anchor="start" fill="#000" font-family='"Liberation Sans", sans-serif' >IFIT3</text>
<text x="1386.4" y="744.43" font-size="23" font-weight="normal" text-anchor="start" fill="#000" font-family='"Liberation Sans", sans-serif' >XAF1</text>
<text x="1386.4" y="771.86" font-size="23" font-weight="normal" text-anchor="start" fill="#000" font-family='"Liberation Sans", sans-serif' >IFIT1</text>
<text x="1386.4" y="799.3" font-size="23" font-weight="normal" text-anchor="start" fill="#000" font-family='"Liberation Sans", sans-serif' >CCND1</text>
<text x="1386.4" y="826.73" font-size="23" font-weight="normal" text-anchor="start" fill="#000" font-family='"Liberation Sans", sans-serif' >CD274</text>
<text x="1386.4" y="854.17" font-size="23" font-weight="normal" text-anchor="start" fill="#000" font-family='"Liberation Sans", sans-serif' >IDO1</text>
<text x="1386.4" y="881.61" font-size="23" font-weight="normal" text-anchor="start" fill="#000" font-family='"Liberation Sans", sans-serif' >IGF1</text>
<text x="1386.4" y="909.04" font-size="23" font-weight="normal" text-anchor="start" fill="#000" font-family='"Liberation Sans", sans-serif' >SLFN13</text>
<text x="1386.4" y="936.48" font-size="23" font-weight="normal" text-anchor="start" fill="#000" font-family='"Liberation Sans", sans-serif' >FGL2</text>
<text x="1386.4" y="963.91" font-size="23" font-weight="normal" text-anchor="start" fill="#000" font-family='"Liberation Sans", sans-serif' >CXCL10</text>
<text x="1386.4" y="991.35" font-size="23" font-weight="normal" text-anchor="start" fill="#000" font-family='"Liberation Sans", sans-serif' >SOD2</text>
<text x="1386.4" y="1018.79" font-size="23" font-weight="normal" text-anchor="start" fill="#000" font-family='"Liberation Sans", sans-serif' >SLFN12L</text>
<text x="1386.4" y="1046.22" font-size="23" font-weight="normal" text-anchor="start" fill="#000" font-family='"Liberation Sans", sans-serif' >FAS</text>
<text x="1386.4" y="1073.66" font-size="23" font-weight="normal" text-anchor="start" fill="#000" font-family='"Liberation Sans", sans-serif' >PTGES</text>
<text x="1386.4" y="1101.09" font-size="23" font-weight="normal" text-anchor="start" fill="#000" font-family='"Liberation Sans", sans-serif' >UBD</text>
<text x="1386.4" y="1128.53" font-size="23" font-weight="normal" text-anchor="start" fill="#000" font-family='"Liberation Sans", sans-serif' >IL15</text>
<text x="1386.4" y="1155.97" font-size="23" font-weight="normal" text-anchor="start" fill="#000" font-family='"Liberation Sans", sans-serif' >CCL20</text>
<text x="1386.4" y="1183.4" font-size="23" font-weight="normal" text-anchor="start" fill="#000" font-family='"Liberation Sans", sans-serif' >ICAM1</text>
<text x="1386.4" y="1210.84" font-size="23" font-weight="normal" text-anchor="start" fill="#000" font-family='"Liberation Sans", sans-serif' >CISH</text>
<text x="1386.4" y="1238.27" font-size="23" font-weight="normal" text-anchor="start" fill="#000" font-family='"Liberation Sans", sans-serif' >SOCS3</text>
<text x="1386.4" y="1265.71" font-size="23" font-weight="normal" text-anchor="start" fill="#000" font-family='"Liberation Sans", sans-serif' >NPTX2</text>
<text x="1386.4" y="1293.15" font-size="23" font-weight="normal" text-anchor="start" fill="#000" font-family='"Liberation Sans", sans-serif' >FOSL2</text>
<text x="1386.4" y="1320.58" font-size="23" font-weight="normal" text-anchor="start" fill="#000" font-family='"Liberation Sans", sans-serif' >CXCL8</text>
<text x="1386.4" y="1348.02" font-size="23" font-weight="normal" text-anchor="start" fill="#000" font-family='"Liberation Sans", sans-serif' >CTSB</text>
<text x="1386.4" y="1375.45" font-size="23" font-weight="normal" text-anchor="start" fill="#000" font-family='"Liberation Sans", sans-serif' >STEAP4</text>
<text x="1386.4" y="1402.89" font-size="23" font-weight="normal" text-anchor="start" fill="#000" font-family='"Liberation Sans", sans-serif' >ALOX5AP</text>
<text x="1386.4" y="1430.33" font-size="23" font-weight="normal" text-anchor="start" fill="#000" font-family='"Liberation Sans", sans-serif' >CD86</text>
<text x="1386.4" y="1457.76" font-size="23" font-weight="normal" text-anchor="start" fill="#000" font-family='"Liberation Sans", sans-serif' >JUN</text>
<text x="1386.4" y="1485.2" font-size="23" font-weight="normal" text-anchor="start" fill="#000" font-family='"Liberation Sans", sans-serif' >HIF1A</text>
<text x="1386.4" y="1512.63" font-size="23" font-weight="normal" text-anchor="start" fill="#000" font-family='"Liberation Sans", sans-serif' >NFKBIA</text>
<text x="1386.4" y="1540.07" font-size="23" font-weight="normal" text-anchor="start" fill="#000" font-family='"Liberation Sans", sans-serif' >GBP2</text>
<text x="1386.4" y="1567.5" font-size="23" font-weight="normal" text-anchor="start" fill="#000" font-family='"Liberation Sans", sans-serif' >CCL2</text>
<text x="1386.4" y="1594.94" font-size="23" font-weight="normal" text-anchor="start" fill="#000" font-family='"Liberation Sans", sans-serif' >SMAD7</text>
<text x="1386.4" y="1622.38" font-size="23" font-weight="normal" text-anchor="start" fill="#000" font-family='"Liberation Sans", sans-serif' >HMOX1</text>
<text x="1386.4" y="1649.81" font-size="23" font-weight="normal" text-anchor="start" fill="#000" font-family='"Liberation Sans", sans-serif' >IRF8</text>
<text x="1386.4" y="1677.25" font-size="23" font-weight="normal" text-anchor="start" fill="#000" font-family='"Liberation Sans", sans-serif' >FOS</text>
<text x="1386.4" y="1704.68" font-size="23" font-weight="normal" text-anchor="start" fill="#000" font-family='"Liberation Sans", sans-serif' >KLF2</text>
<text x="1386.4" y="1732.12" font-size="23" font-weight="normal" text-anchor="start" fill="#000" font-family='"Liberation Sans", sans-serif' >KCTD12</text>
<text x="1386.4" y="1759.56" font-size="23" font-weight="normal" text-anchor="start" fill="#000" font-family='"Liberation Sans", sans-serif' >EGR2</text>
<text x="1386.4" y="1786.99" font-size="23" font-weight="normal" text-anchor="start" fill="#000" font-family='"Liberation Sans", sans-serif' >MMP9</text>
<text x="1386.4" y="1814.43" font-size="23" font-weight="normal" text-anchor="start" fill="#000" font-family='"Liberation Sans", sans-serif' >SLC1A3</text>
<text x="1386.4" y="1841.86" font-size="23" font-weight="normal" text-anchor="start" fill="#000" font-family='"Liberation Sans", sans-serif' >C3</text>
<text x="0" y="0" font-size="23" font-weight="normal" text-anchor="start" fill="#000" font-family='"Liberation Sans", sans-serif' transform="translate(1188.30,78.9) rotate(-90)">42</text>
<text x="0" y="0" font-size="23" font-weight="normal" text-anchor="start" fill="#000" font-family='"Liberation Sans", sans-serif' transform="translate(1215.65,78.9) rotate(-90)">42 PRL</text>
<text x="0" y="0" font-size="23" font-weight="normal" text-anchor="start" fill="#000" font-family='"Liberation Sans", sans-serif' transform="translate(1262.35,78.9) rotate(-90)">74</text>
<text x="0" y="0" font-size="23" font-weight="normal" text-anchor="start" fill="#000" font-family='"Liberation Sans", sans-serif' transform="translate(1289.70,78.9) rotate(-90)">74 PRL</text>
<text x="0" y="0" font-size="23" font-weight="normal" text-anchor="start" fill="#000" font-family='"Liberation Sans", sans-serif' transform="translate(1336.90,78.9) rotate(-90)">75</text>
<text x="0" y="0" font-size="23" font-weight="normal" text-anchor="start" fill="#000" font-family='"Liberation Sans", sans-serif' transform="translate(1364.40,78.9) rotate(-90)">75 PRL</text>
<path d="M1156.8,106.9H1145.2V134.4H1156.8M1145.2,106.9M1156.8,161.8H1154.4V189.2H1156.8M1154.4,161.8M1154.4,175.5H1150.6V216.7H1156.8M1150.6,175.5M1145.2,120.6H1137.1V189.2H1150.6M1137.1,120.6M1156.8,271.5H1153.3V299.0H1156.8M1153.3,271.5M1156.8,244.1H1141.2V285.3H1153.3M1141.2,244.1M1141.2,271.5H1129.0V326.4H1156.8M1129.0,271.5M1137.1,161.8H1121.9V285.3H1129.0M1121.9,161.8M1156.8,353.8H1152.2V381.3H1156.8M1152.2,353.8M1156.8,408.7H1151.3V436.1H1156.8M1151.3,408.7M1151.3,422.4H1148.8V463.6H1156.8M1148.8,422.4M1152.2,367.6H1145.5V436.1H1148.8M1145.5,367.6M1156.8,518.5H1155.3V545.9H1156.8M1155.3,518.5M1156.8,573.3H1152.9V600.8H1156.8M1152.9,573.3M1155.3,532.2H1152.5V587.0H1152.9M1152.5,532.2M1156.8,491.0H1149.0V559.6H1152.5M1149.0,491.0M1145.5,408.7H1140.9V545.9H1149.0M1140.9,408.7M1156.8,628.2H1140.5V655.6H1156.8M1140.5,628.2M1140.9,477.3H1131.3V641.9H1140.5M1131.3,477.3M1156.8,683.1H1151.7V710.5H1156.8M1151.7,683.1M1151.7,696.8H1147.6V737.9H1156.8M1147.6,696.8M1147.6,710.5H1135.1V765.4H1156.8M1135.1,710.5M1131.3,504.7H1121.9V724.2H1135.1M1121.9,504.7M1121.9,216.7H1104.5V559.6H1121.9M1104.5,216.7M1156.8,820.3H1151.6V847.7H1156.8M1151.6,820.3M1156.8,792.8H1128.1V834.0H1151.6M1128.1,792.8M1156.8,875.1H1146.7V902.6H1156.8M1146.7,875.1M1146.7,888.8H1134.1V930.0H1156.8M1134.1,888.8M1134.1,902.6H1086.3V957.4H1156.8M1086.3,902.6M1128.1,820.3H1079.3V916.3H1086.3M1079.3,820.3M1156.8,1012.3H1146.4V1039.7H1156.8M1146.4,1012.3M1156.8,984.9H1115.7V1026.0H1146.4M1115.7,984.9M1156.8,1067.2H1142.5V1094.6H1156.8M1142.5,1067.2M1142.5,1080.9H1130.8V1122.0H1156.8M1130.8,1080.9M1156.8,1149.5H1149.5V1176.9H1156.8M1149.5,1149.5M1156.8,1204.4H1155.3V1231.8H1156.8M1155.3,1204.4M1149.5,1163.2H1149.2V1218.1H1155.3M1149.2,1163.2M1149.2,1190.6H1143.9V1259.2H1156.8M1143.9,1190.6M1156.8,1286.7H1147.6V1314.1H1156.8M1147.6,1286.7M1143.9,1204.4H1140.1V1300.4H1147.6M1140.1,1204.4M1156.8,1341.5H1152.6V1369.0H1156.8M1152.6,1341.5M1156.8,1423.8H1155.0V1451.3H1156.8M1155.0,1423.8M1156.8,1396.4H1153.3V1437.6H1155.0M1153.3,1396.4M1153.3,1423.8H1149.2V1478.7H1156.8M1149.2,1423.8M1152.6,1355.3H1145.9V1437.6H1149.2M1145.9,1355.3M1140.1,1231.8H1138.7V1410.1H1145.9M1138.7,1231.8M1156.8,1506.2H1150.5V1533.6H1156.8M1150.5,1506.2M1150.5,1519.9H1149.9V1561.0H1156.8M1149.9,1519.9M1138.7,1314.1H1124.7V1533.6H1149.9M1124.7,1314.1M1130.8,1094.6H1114.9V1355.3H1124.7M1114.9,1094.6M1115.7,1012.3H1101.8V1314.1H1114.9M1101.8,1012.3M1156.8,1588.5H1147.9V1615.9H1156.8M1147.9,1588.5M1156.8,1643.3H1155.7V1670.8H1156.8M1155.7,1643.3M1155.7,1657.0H1152.6V1698.2H1156.8M1152.6,1657.0M1147.9,1602.2H1148.2V1670.8H1152.6M1148.2,1602.2M1156.8,1753.1H1155.7V1780.5H1156.8M1155.7,1753.1M1155.7,1766.8H1154.3V1807.9H1156.8M1154.3,1766.8M1154.3,1780.5H1152.6V1835.4H1156.8M1152.6,1780.5M1156.8,1725.6H1147.2V1794.2H1152.6M1147.2,1725.6M1148.2,1643.3H1142.5V1780.5H1147.2M1142.5,1643.3M1101.8,1272.9H1096.8V1711.9H1142.5M1096.8,1272.9M1079.3,875.1H1014.9V1410.1H1096.8M1014.9,875.1M1104.5,436.1H960.4V1314.1H1014.9M960.4,436.1" fill="none" stroke="#111" stroke-width="1.4"/>
<rect x="1044.9" y="1484.7" width="19.8" height="359" fill="url(#gKey)" stroke="#222" stroke-width="1.1"/>
<text x="974" y="1497.4" font-size="31" font-weight="bold" text-anchor="start" fill="#000" font-family='"Liberation Sans", sans-serif' >row</text>
<text x="974" y="1532.7" font-size="31" font-weight="bold" text-anchor="start" fill="#000" font-family='"Liberation Sans", sans-serif' >max</text>
<text x="974" y="1817" font-size="31" font-weight="bold" text-anchor="start" fill="#000" font-family='"Liberation Sans", sans-serif' >row</text>
<text x="974" y="1853.3" font-size="31" font-weight="bold" text-anchor="start" fill="#000" font-family='"Liberation Sans", sans-serif' >min</text>
<line x1="175.5" y1="915.1" x2="293" y2="915.1" stroke="#000" stroke-width="3.5" />
<path d="M312.2,915.1 L292.2,924.85 L292.2,905.35 Z" fill="#000"/>
<line x1="164.7" y1="936.8" x2="324.38" y2="1035.11" stroke="#000" stroke-width="3.6" />
<path d="M338,1043.5 L315.99,1041.1 L325.95,1024.92 Z" fill="#000"/>
<line x1="76.3" y1="1045.5" x2="115.62" y2="951.56" stroke="#000" stroke-width="3.6" />
<path d="M121.8,936.8 L122.07,960.76 L104.54,953.43 Z" fill="#000"/>
<line x1="317.8" y1="937" x2="101.2" y2="1048.7" stroke="#000" stroke-width="3.6" />
<line x1="96.4" y1="1041.5" x2="105.7" y2="1058.4" stroke="#000" stroke-width="1.6" />
<line x1="256" y1="1176.3" x2="343.87" y2="951.9" stroke="#000" stroke-width="3.8" />
<path d="M349.7,937 L350.99,961.13 L332.37,953.84 Z" fill="#000"/>
<line x1="358" y1="936.5" x2="358.7" y2="1021.5" stroke="#000" stroke-width="3.3" />
<line x1="348.6" y1="1021.8" x2="369.3" y2="1021.8" stroke="#000" stroke-width="2.2" />
<line x1="377.2" y1="937" x2="457.4" y2="1026.5" stroke="#000" stroke-width="3.6" />
<line x1="450.8" y1="1033.6" x2="466" y2="1019.9" stroke="#000" stroke-width="2.0" />
<line x1="87.6" y1="1081.7" x2="205.61" y2="1166.85" stroke="#000" stroke-width="3.7" stroke-dasharray="25 8"/>
<path d="M219.4,1176.8 L195.71,1172.04 L207.41,1155.82 Z" fill="#000"/>
<line x1="360.3" y1="675.3" x2="360.3" y2="743.5" stroke="#000" stroke-width="3.0" stroke-dasharray="16.3 7"/>
<path d="M360.6,760 L351.9,743.5 L369.6,743.5 Z" fill="#000"/>
<line x1="360" y1="818.4" x2="359" y2="877" stroke="#000" stroke-width="2.6" />
<path d="M359,893.8 L350.2,876.3 L367.7,876.3 Z" fill="#000"/>
<path d="M388.95,627.97 A35.6,30 0 1 0 325.65,613.68" fill="none" stroke="#000" stroke-width="3.0" stroke-dasharray="13 5.5"/>
<path d="M317.5,620.4 L333.8,613.3 L333.2,633.1 Z" fill="#000"/>
<path d="M390.21,774.93 A35.3,35.3 0 1 0 325.64,750.79" fill="none" stroke="#000" stroke-width="3.0" />
<line x1="317.5" y1="755.5" x2="335.6" y2="750.2" stroke="#000" stroke-width="2.2" />
<path d="M318.7,759.9 L336.2,755.1 L332.6,773.8 Z" fill="#000"/>
<path d="M384.20,895.26 A26.5,26.5 0 0 0 335.28,875.00" fill="none" stroke="#000" stroke-width="4.0" />
<path d="M331.1,893.8 L322.9,873.3 L342.8,873.3 Z" fill="#000"/>
<path d="M157.37,893.22 A27,25.5 0 0 0 106.63,875.78" fill="none" stroke="#000" stroke-width="3.6" />
<path d="M104.3,894.2 L95.8,873.5 L116,873.5 Z" fill="#000"/>
<path d="M89.69,1056.23 A28.8,28.8 0 1 0 38.48,1042.51" fill="none" stroke="#000" stroke-width="3.6" />
<path d="M28.8,1041.9 L48.2,1034.6 L45.7,1056.8 Z" fill="#000"/>
<path d="M275.82,1178.15 A28.8,28.8 0 1 0 220.18,1178.15" fill="none" stroke="#000" stroke-width="2.3" />
<path d="M360.90,636.87 C363.55,636.87 366.73,629.73 371.50,624.79 C376.27,619.85 382.10,619.30 385.54,621.50 C388.46,623.69 387.93,628.09 386.07,631.38 C379.98,645.11 374.15,653.34 371.76,666.52 C370.17,674.20 364.61,675.30 360.90,675.30 C357.19,675.30 351.62,674.20 350.03,666.52 C347.65,653.34 341.82,645.11 335.72,631.38 C333.87,628.09 333.34,623.69 336.25,621.50 C339.70,619.30 345.53,619.85 350.30,624.79 C355.07,629.73 358.25,636.87 360.90,636.87 Z" fill="#ffffff" stroke="#666" stroke-width="1.0"/>
<path d="M360.60,777.40 C366.90,777.40 368.85,762.20 375.60,762.20 C384.53,762.20 387.50,769.08 387.50,789.70 C387.50,810.33 384.53,817.20 375.60,817.20 C368.85,817.20 366.90,802.00 360.60,802.00 C354.30,802.00 352.35,817.20 345.60,817.20 C336.68,817.20 333.70,810.33 333.70,789.70 C333.70,769.08 336.68,762.20 345.60,762.20 C352.35,762.20 354.30,777.40 360.60,777.40 Z" fill="#c8c8c8" stroke="#6a6a6a" stroke-width="1.3"/>
<path d="M130.80,905.70 C141.20,905.70 144.41,895.30 155.55,895.30 C166.29,895.30 175.00,904.30 175.00,915.40 C175.00,926.50 166.29,935.50 155.55,935.50 C144.41,935.50 141.20,925.10 130.80,925.10 C120.40,925.10 117.19,935.50 106.05,935.50 C95.31,935.50 86.60,926.50 86.60,915.40 C86.60,904.30 95.31,895.30 106.05,895.30 C117.19,895.30 120.40,905.70 130.80,905.70 Z" fill="#c6f6d6" stroke="#6a6a6a" stroke-width="1.3"/>
<path d="M358.10,905.40 C368.59,905.40 371.84,895.00 383.08,895.00 C393.91,895.00 402.70,904.00 402.70,915.10 C402.70,926.20 393.91,935.20 383.08,935.20 C371.84,935.20 368.59,924.80 358.10,924.80 C347.61,924.80 344.36,935.20 333.12,935.20 C322.29,935.20 313.50,926.20 313.50,915.10 C313.50,904.00 322.29,895.00 333.12,895.00 C344.36,895.00 347.61,905.40 358.10,905.40 Z" fill="#fde0e0" stroke="#6a6a6a" stroke-width="1.3"/>
<path d="M248.20,1188.60 C258.76,1188.60 262.03,1177.50 273.34,1177.50 C284.26,1177.50 293.10,1186.68 293.10,1198.00 C293.10,1209.32 284.26,1218.50 273.34,1218.50 C262.03,1218.50 258.76,1207.40 248.20,1207.40 C237.64,1207.40 234.37,1218.50 223.06,1218.50 C212.14,1218.50 203.30,1209.32 203.30,1198.00 C203.30,1186.68 212.14,1177.50 223.06,1177.50 C234.37,1177.50 237.64,1188.60 248.20,1188.60 Z" fill="#05fa7c" stroke="#777" stroke-width="1.3"/>
<path d="M67.00,1058.72 C69.04,1058.72 71.49,1053.34 75.16,1049.61 C78.83,1045.89 83.32,1045.47 85.97,1047.13 C88.22,1048.78 87.81,1052.10 86.38,1054.58 C81.69,1064.93 77.20,1071.14 75.36,1081.08 C74.14,1086.87 69.86,1087.70 67.00,1087.70 C64.14,1087.70 59.86,1086.87 58.64,1081.08 C56.80,1071.14 52.31,1064.93 47.62,1054.58 C46.19,1052.10 45.78,1048.78 48.03,1047.13 C50.68,1045.47 55.17,1045.89 58.84,1049.61 C62.51,1053.34 64.96,1058.72 67.00,1058.72 Z" fill="#bdf8d0" stroke="#999" stroke-width="1.0"/>
<path d="M359.40,1049.20 C361.46,1049.20 363.93,1043.87 367.64,1040.18 C371.35,1036.49 375.88,1036.08 378.56,1037.72 C380.82,1039.36 380.41,1042.64 378.97,1045.10 C374.23,1055.35 369.70,1061.50 367.85,1071.34 C366.61,1077.08 362.28,1077.90 359.40,1077.90 C356.52,1077.90 352.19,1077.08 350.95,1071.34 C349.10,1061.50 344.57,1055.35 339.83,1045.10 C338.39,1042.64 337.98,1039.36 340.24,1037.72 C342.92,1036.08 347.45,1036.49 351.16,1040.18 C354.87,1043.87 357.34,1049.20 359.40,1049.20 Z" fill="#cfcfcf" stroke="#888" stroke-width="1.0"/>
<path d="M487.30,1050.39 C489.33,1050.39 491.77,1045.02 495.42,1041.30 C499.07,1037.59 503.54,1037.17 506.18,1038.83 C508.41,1040.48 508.01,1043.78 506.59,1046.26 C501.92,1056.59 497.45,1062.78 495.62,1072.69 C494.41,1078.47 490.14,1079.30 487.30,1079.30 C484.46,1079.30 480.19,1078.47 478.98,1072.69 C477.15,1062.78 472.68,1056.59 468.01,1046.26 C466.59,1043.78 466.19,1040.48 468.42,1038.83 C471.06,1037.17 475.53,1037.59 479.18,1041.30 C482.83,1045.02 485.27,1050.39 487.30,1050.39 Z" fill="#cfcfcf" stroke="#888" stroke-width="1.0"/>
<text x="338.3" y="655.8" font-size="22.6" font-weight="bold" text-anchor="start" fill="#000" font-family='"Liberation Sans", sans-serif' textLength="44.36" lengthAdjust="spacingAndGlyphs" >PRL</text>
<text x="330.1" y="797.3" font-size="22.6" font-weight="bold" text-anchor="start" fill="#000" font-family='"Liberation Sans", sans-serif' textLength="60.4" lengthAdjust="spacingAndGlyphs" >RELA</text>
<text x="91.84" y="922.4" font-size="22.6" font-weight="bold" text-anchor="start" fill="#000" font-family='"Liberation Sans", sans-serif' textLength="77.55" lengthAdjust="spacingAndGlyphs" >SMAD3</text>
<text x="319.34" y="922.6" font-size="22.6" font-weight="bold" text-anchor="start" fill="#000" font-family='"Liberation Sans", sans-serif' textLength="76.9" lengthAdjust="spacingAndGlyphs" >SMAD7</text>
<text x="30.63" y="1074.5" font-size="22.6" font-weight="bold" text-anchor="start" fill="#000" font-family='"Liberation Sans", sans-serif' textLength="69.96" lengthAdjust="spacingAndGlyphs" >TGFB1</text>
<text x="323.02" y="1064.9" font-size="22.6" font-weight="bold" text-anchor="start" fill="#000" font-family='"Liberation Sans", sans-serif' textLength="72.97" lengthAdjust="spacingAndGlyphs" >TGFB3</text>
<text x="451.22" y="1066.4" font-size="22.6" font-weight="bold" text-anchor="start" fill="#000" font-family='"Liberation Sans", sans-serif' textLength="72.67" lengthAdjust="spacingAndGlyphs" >TGFB2</text>
<text x="203.03" y="1205.6" font-size="22.6" font-weight="bold" text-anchor="start" fill="#000" font-family='"Liberation Sans", sans-serif' textLength="88.3" lengthAdjust="spacingAndGlyphs" >TGFB1I1</text>
<text x="396.98" y="797.3" font-size="23.5" font-weight="normal" text-anchor="start" fill="#000" font-family='"Liberation Sans", sans-serif' textLength="63.91" lengthAdjust="spacingAndGlyphs" stroke="#000" stroke-width="0.45">0.106</text>
<text x="-0.56" y="923.5" font-size="23.5" font-weight="normal" text-anchor="start" fill="#000" font-family='"Liberation Sans", sans-serif' textLength="77.55" lengthAdjust="spacingAndGlyphs" stroke="#000" stroke-width="0.45">−0.747</text>
<text x="411.68" y="923.6" font-size="23.5" font-weight="normal" text-anchor="start" fill="#000" font-family='"Liberation Sans", sans-serif' textLength="64.0" lengthAdjust="spacingAndGlyphs" stroke="#000" stroke-width="0.45">0.517</text>
<text x="28.45" y="1117.5" font-size="23.5" font-weight="normal" text-anchor="start" fill="#000" font-family='"Liberation Sans", sans-serif' textLength="77.43" lengthAdjust="spacingAndGlyphs" stroke="#000" stroke-width="0.45">−0.820</text>
<text x="326.68" y="1108.4" font-size="23.5" font-weight="bold" text-anchor="start" fill="#000" font-family='"Liberation Sans", sans-serif' textLength="63.62" lengthAdjust="spacingAndGlyphs" >0.151</text>
<text x="454.97" y="1109.4" font-size="23.5" font-weight="bold" text-anchor="start" fill="#000" font-family='"Liberation Sans", sans-serif' textLength="64.67" lengthAdjust="spacingAndGlyphs" >0.360</text>
<text x="209.74" y="1248.6" font-size="23.5" font-weight="normal" text-anchor="start" fill="#000" font-family='"Liberation Sans", sans-serif' textLength="78.07" lengthAdjust="spacingAndGlyphs" stroke="#000" stroke-width="0.45">−2.317</text>
<text x="607.8" y="817.3" font-size="19.5" font-weight="bold" text-anchor="start" fill="#000" font-family='"Liberation Sans", sans-serif' textLength="250.8" lengthAdjust="spacingAndGlyphs" >Cytokine/Growth factor</text>
<text x="607.8" y="839.7" font-size="19.5" font-weight="bold" text-anchor="start" fill="#000" font-family='"Liberation Sans", sans-serif' textLength="243.9" lengthAdjust="spacingAndGlyphs" >Transcription regulator</text>
<text x="607.8" y="862.9" font-size="19.5" font-weight="bold" text-anchor="start" fill="#000" font-family='"Liberation Sans", sans-serif' textLength="106.1" lengthAdjust="spacingAndGlyphs" >Activation</text>
<text x="607.8" y="885.7" font-size="19.5" font-weight="bold" text-anchor="start" fill="#000" font-family='"Liberation Sans", sans-serif' textLength="96.3" lengthAdjust="spacingAndGlyphs" >Inhibition</text>
<text x="607.8" y="908.5" font-size="19.5" font-weight="bold" text-anchor="start" fill="#000" font-family='"Liberation Sans", sans-serif' textLength="205.6" lengthAdjust="spacingAndGlyphs" >Inhibits and acts on</text>
<text x="607.8" y="930.6" font-size="19.5" font-weight="bold" text-anchor="start" fill="#000" font-family='"Liberation Sans", sans-serif' textLength="193.8" lengthAdjust="spacingAndGlyphs" >Direct relationship</text>
<text x="607.8" y="953.6" font-size="19.5" font-weight="bold" text-anchor="start" fill="#000" font-family='"Liberation Sans", sans-serif' textLength="210.9" lengthAdjust="spacingAndGlyphs" >Indirect relationship</text>
<text x="607.8" y="976.9" font-size="19.5" font-weight="bold" text-anchor="start" fill="#000" font-family='"Liberation Sans", sans-serif' textLength="225.2" lengthAdjust="spacingAndGlyphs" >Increased expression</text>
<text x="607.8" y="999.2" font-size="19.5" font-weight="bold" text-anchor="start" fill="#000" font-family='"Liberation Sans", sans-serif' textLength="234.4" lengthAdjust="spacingAndGlyphs" >Decreased expression</text>
<path d="M572.80,806.05 C574.09,806.05 575.64,803.00 577.96,800.88 C580.28,798.76 583.12,798.53 584.80,799.47 C586.22,800.41 585.96,802.29 585.05,803.70 C582.09,809.58 579.25,813.10 578.09,818.74 C577.31,822.03 574.61,822.50 572.80,822.50 C570.99,822.50 568.28,822.03 567.51,818.74 C566.35,813.10 563.51,809.58 560.54,803.70 C559.64,802.29 559.38,800.41 560.80,799.47 C562.48,798.53 565.32,798.76 567.64,800.88 C569.96,803.00 571.51,806.05 572.80,806.05 Z" fill="#ffffff" stroke="#777" stroke-width="1.1"/>
<path d="M572.85,830.00 C576.52,830.00 577.66,823.80 581.60,823.80 C584.73,823.80 585.00,824.57 585.00,833.45 C585.00,842.33 584.73,843.10 581.60,843.10 C577.66,843.10 576.52,836.90 572.85,836.90 C569.18,836.90 568.04,843.10 564.10,843.10 C560.97,843.10 560.70,842.33 560.70,833.45 C560.70,824.57 560.97,823.80 564.10,823.80 C568.04,823.80 569.18,830.00 572.85,830.00 Z" fill="#ffffff" stroke="#777" stroke-width="1.1"/>
<line x1="544.1" y1="855.2" x2="590" y2="855.2" stroke="#000" stroke-width="2.8" />
<path d="M605.3,855.2 L587,846.3 L587,864 Z" fill="#000"/>
<line x1="541.4" y1="878.6" x2="597.5" y2="878.6" stroke="#000" stroke-width="2.1" />
<line x1="598.2" y1="871.5" x2="598.2" y2="886" stroke="#000" stroke-width="3.6" />
<line x1="541.4" y1="901.3" x2="579" y2="901.3" stroke="#000" stroke-width="2.1" />
<line x1="579.6" y1="894" x2="579.6" y2="909" stroke="#000" stroke-width="3.0" />
<path d="M603,901.3 L586,893.5 L586,909.1 Z" fill="#000"/>
<line x1="541.6" y1="923.2" x2="603.2" y2="923.2" stroke="#000" stroke-width="2.5" />
<line x1="548.6" y1="947.3" x2="594.6" y2="947.3" stroke="#000" stroke-width="3.3" stroke-dasharray="7.6 11.6" stroke-linecap="round"/>
<ellipse cx="572.8" cy="970.5" rx="14.6" ry="9.6" fill="#ff0000" stroke="#999" stroke-width="0.6"/>
<ellipse cx="572.8" cy="994" rx="14.6" ry="9.6" fill="#00ff00" stroke="#999" stroke-width="0.6"/>
<line x1="97.7" y1="1298.8" x2="97.7" y2="1639.2" stroke="#000" stroke-width="2.8" />
<line x1="87.7" y1="1299.9" x2="97.7" y2="1299.9" stroke="#000" stroke-width="2.8" />
<text x="42.5" y="1308.1" font-size="26.4" font-weight="bold" text-anchor="start" fill="#000" font-family='"Liberation Sans", sans-serif' textLength="41.63" lengthAdjust="spacingAndGlyphs" >200</text>
<line x1="87.7" y1="1384.375" x2="97.7" y2="1384.375" stroke="#000" stroke-width="2.8" />
<text x="42.5" y="1392.58" font-size="26.4" font-weight="bold" text-anchor="start" fill="#000" font-family='"Liberation Sans", sans-serif' textLength="41.63" lengthAdjust="spacingAndGlyphs" >150</text>
<line x1="87.7" y1="1468.85" x2="97.7" y2="1468.85" stroke="#000" stroke-width="2.8" />
<text x="42.5" y="1477.05" font-size="26.4" font-weight="bold" text-anchor="start" fill="#000" font-family='"Liberation Sans", sans-serif' textLength="41.63" lengthAdjust="spacingAndGlyphs" >100</text>
<line x1="87.7" y1="1553.325" x2="97.7" y2="1553.325" stroke="#000" stroke-width="2.8" />
<text x="56.41" y="1561.53" font-size="26.4" font-weight="bold" text-anchor="start" fill="#000" font-family='"Liberation Sans", sans-serif' textLength="27.75" lengthAdjust="spacingAndGlyphs" >50</text>
<line x1="87.7" y1="1637.8" x2="97.7" y2="1637.8" stroke="#000" stroke-width="2.8" />
<text x="70.25" y="1646.0" font-size="26.4" font-weight="bold" text-anchor="start" fill="#000" font-family='"Liberation Sans", sans-serif' textLength="13.88" lengthAdjust="spacingAndGlyphs" >0</text>
<line x1="88.4" y1="1637.8" x2="323.4" y2="1637.8" stroke="#000" stroke-width="3.1" />
<rect x="132.40" y="1411.30" width="58.20" height="226.50" fill="url(#pTan)"/><path d="M132.40,1637.80 V1411.30 H190.60 V1637.80" fill="none" stroke="#000" stroke-width="4.8"/>
<rect x="229.20" y="1373.50" width="57.00" height="264.30" fill="url(#pBlue)"/><path d="M229.20,1637.80 V1373.50 H286.20 V1637.80" fill="none" stroke="#000" stroke-width="4.8"/>
<line x1="162" y1="1637" x2="162" y2="1647" stroke="#000" stroke-width="3.0" />
<line x1="258.2" y1="1637" x2="258.2" y2="1647" stroke="#000" stroke-width="3.0" />
<line x1="162" y1="1409" x2="162" y2="1382.6" stroke="#000" stroke-width="3.0" />
<line x1="145.8" y1="1382.6" x2="177.2" y2="1382.6" stroke="#000" stroke-width="2.8" />
<line x1="258.2" y1="1371" x2="258.2" y2="1345.4" stroke="#000" stroke-width="3.0" />
<line x1="242.4" y1="1345.4" x2="273.4" y2="1345.4" stroke="#000" stroke-width="2.8" />
<line x1="160.3" y1="1321.8" x2="259.2" y2="1321.8" stroke="#000" stroke-width="2.8" />
<text x="210.2" y="1318" font-size="32" font-weight="bold" text-anchor="middle" fill="#000" font-family='"Liberation Sans", sans-serif' >*</text>
<text x="0" y="0" font-size="29" font-weight="bold" text-anchor="middle" fill="#000" font-family='"Liberation Sans", sans-serif' textLength="345" lengthAdjust="spacingAndGlyphs" transform="translate(29,1469) rotate(-90)">SMAD7 (Mean expression)</text>
<text x="110.66" y="1676.1" font-size="27.3" font-weight="bold" text-anchor="start" fill="#000" font-family='"Liberation Sans", sans-serif' textLength="101.54" lengthAdjust="spacingAndGlyphs" >Control</text>
<text x="220.49" y="1676.1" font-size="27.3" font-weight="bold" text-anchor="start" fill="#000" font-family='"Liberation Sans", sans-serif' textLength="73.61" lengthAdjust="spacingAndGlyphs" >+PRL</text>
<rect x="95" y="1705.6" width="281" height="53.7" fill="#119acb"/>
<g filter="url(#blur2)"><ellipse cx="306" cy="1733" rx="56" ry="8" fill="#3a5460" opacity="0.85"/><ellipse cx="340" cy="1733" rx="22" ry="9" fill="#4a3c44" opacity="0.6"/><ellipse cx="190" cy="1737" rx="25" ry="6" fill="#0e6f94" opacity="0.6"/><ellipse cx="150" cy="1737" rx="30" ry="4" fill="#0f86b0" opacity="0.5"/></g>
<rect x="98.4" y="1774.4" width="278.1" height="54.3" fill="#0aa7da"/>
<rect x="98.4" y="1774.4" width="278.1" height="3" fill="#22b8ea" opacity="0.8"/>
<g filter="url(#blur2)"><ellipse cx="162" cy="1809" rx="50" ry="4.5" fill="#0a7ea8" opacity="0.7"/><ellipse cx="338" cy="1811" rx="20" ry="4" fill="#0a86b0" opacity="0.6"/></g>
<text x="379.7" y="1751.4" font-size="31.5" font-weight="bold" text-anchor="start" fill="#000" font-family='"Liberation Sans", sans-serif' textLength="105.2" lengthAdjust="spacingAndGlyphs" >SMAD7</text>
<text x="383.6" y="1814.9" font-size="34" font-weight="normal" text-anchor="start" fill="#000" font-family='"Liberation Serif", serif' >α</text>
<line x1="406.1" y1="1806.9" x2="422.7" y2="1806.9" stroke="#000" stroke-width="1.4" />
<text x="427.13" y="1814.9" font-size="31" font-weight="bold" text-anchor="start" fill="#000" font-family='"Liberation Sans", sans-serif' textLength="98.64" lengthAdjust="spacingAndGlyphs" >tubulin</text>
<text x="97.9" y="1855" font-size="28.5" font-weight="bold" text-anchor="start" fill="#000" font-family='"Liberation Sans", sans-serif' textLength="106.9" lengthAdjust="spacingAndGlyphs" >Control</text>
<text x="257.49" y="1855" font-size="28.5" font-weight="bold" text-anchor="start" fill="#000" font-family='"Liberation Sans", sans-serif' textLength="79.37" lengthAdjust="spacingAndGlyphs" >+PRL</text>
<line x1="650" y1="1303.8" x2="650" y2="1638.2" stroke="#000" stroke-width="2.8" />
<line x1="640" y1="1305.4499999999998" x2="650" y2="1305.4499999999998" stroke="#000" stroke-width="2.8" />
<text x="581.19" y="1313.85" font-size="27.1" font-weight="bold" text-anchor="start" fill="#000" font-family='"Liberation Sans", sans-serif' textLength="56.07" lengthAdjust="spacingAndGlyphs" >1500</text>
<line x1="640" y1="1415.8999999999999" x2="650" y2="1415.8999999999999" stroke="#000" stroke-width="2.8" />
<text x="581.19" y="1424.3" font-size="27.1" font-weight="bold" text-anchor="start" fill="#000" font-family='"Liberation Sans", sans-serif' textLength="56.07" lengthAdjust="spacingAndGlyphs" >1000</text>
<line x1="640" y1="1526.35" x2="650" y2="1526.35" stroke="#000" stroke-width="2.8" />
<text x="595.18" y="1534.75" font-size="27.1" font-weight="bold" text-anchor="start" fill="#000" font-family='"Liberation Sans", sans-serif' textLength="42.05" lengthAdjust="spacingAndGlyphs" >500</text>
<line x1="640" y1="1636.8" x2="650" y2="1636.8" stroke="#000" stroke-width="2.8" />
<text x="623.22" y="1645.2" font-size="27.1" font-weight="bold" text-anchor="start" fill="#000" font-family='"Liberation Sans", sans-serif' textLength="14.02" lengthAdjust="spacingAndGlyphs" >0</text>
<line x1="640.8" y1="1636.8" x2="872.7" y2="1636.8" stroke="#000" stroke-width="3.1" />
<rect x="683.70" y="1413.00" width="58.40" height="223.80" fill="url(#pTan)"/><path d="M683.70,1636.80 V1413.00 H742.10 V1636.80" fill="none" stroke="#000" stroke-width="4.8"/>
<rect x="778.90" y="1472.70" width="57.70" height="164.10" fill="url(#pBlue)"/><path d="M778.90,1636.80 V1472.70 H836.60 V1636.80" fill="none" stroke="#000" stroke-width="4.8"/>
<line x1="713" y1="1636" x2="713" y2="1646" stroke="#000" stroke-width="3.0" />
<line x1="807.6" y1="1636" x2="807.6" y2="1646" stroke="#000" stroke-width="3.0" />
<line x1="713" y1="1411" x2="713" y2="1371.1" stroke="#000" stroke-width="3.0" />
<line x1="698.9" y1="1371.1" x2="728.6" y2="1371.1" stroke="#000" stroke-width="2.8" />
<line x1="807.6" y1="1471" x2="807.6" y2="1460.2" stroke="#000" stroke-width="3.0" />
<line x1="792.7" y1="1460.2" x2="823.1" y2="1460.2" stroke="#000" stroke-width="2.8" />
<line x1="705" y1="1340.7" x2="809.6" y2="1340.7" stroke="#000" stroke-width="2.8" />
<text x="756.8" y="1336.5" font-size="32" font-weight="bold" text-anchor="middle" fill="#000" font-family='"Liberation Sans", sans-serif' >*</text>
<text font-size="27" font-weight="bold" font-family='"Liberation Sans", sans-serif' text-anchor="middle" transform="translate(569,1470.5) rotate(-90)" textLength="184" lengthAdjust="spacingAndGlyphs">TGF<tspan font-family='"Liberation Serif", serif' font-weight="normal">β 1</tspan> (pg/<tspan font-family='"Liberation Serif", serif' font-weight="normal">μ</tspan>l)</text>
<text x="0" y="0" font-size="27.5" font-weight="bold" text-anchor="end" fill="#000" font-family='"Liberation Sans", sans-serif' transform="translate(721,1670.5) rotate(-45)">CD34<tspan font-size="19" font-weight="normal" dx="2" dy="-13">+</tspan></text>
<text x="0" y="0" font-size="27" font-weight="bold" text-anchor="end" fill="#000" font-family='"Liberation Sans", sans-serif' transform="translate(815.4,1671.3) rotate(-45)">CD34<tspan font-size="19" font-weight="normal" dx="2" dy="-13">+</tspan><tspan dx="3" dy="13">+PRL</tspan></text></svg></body></html>
